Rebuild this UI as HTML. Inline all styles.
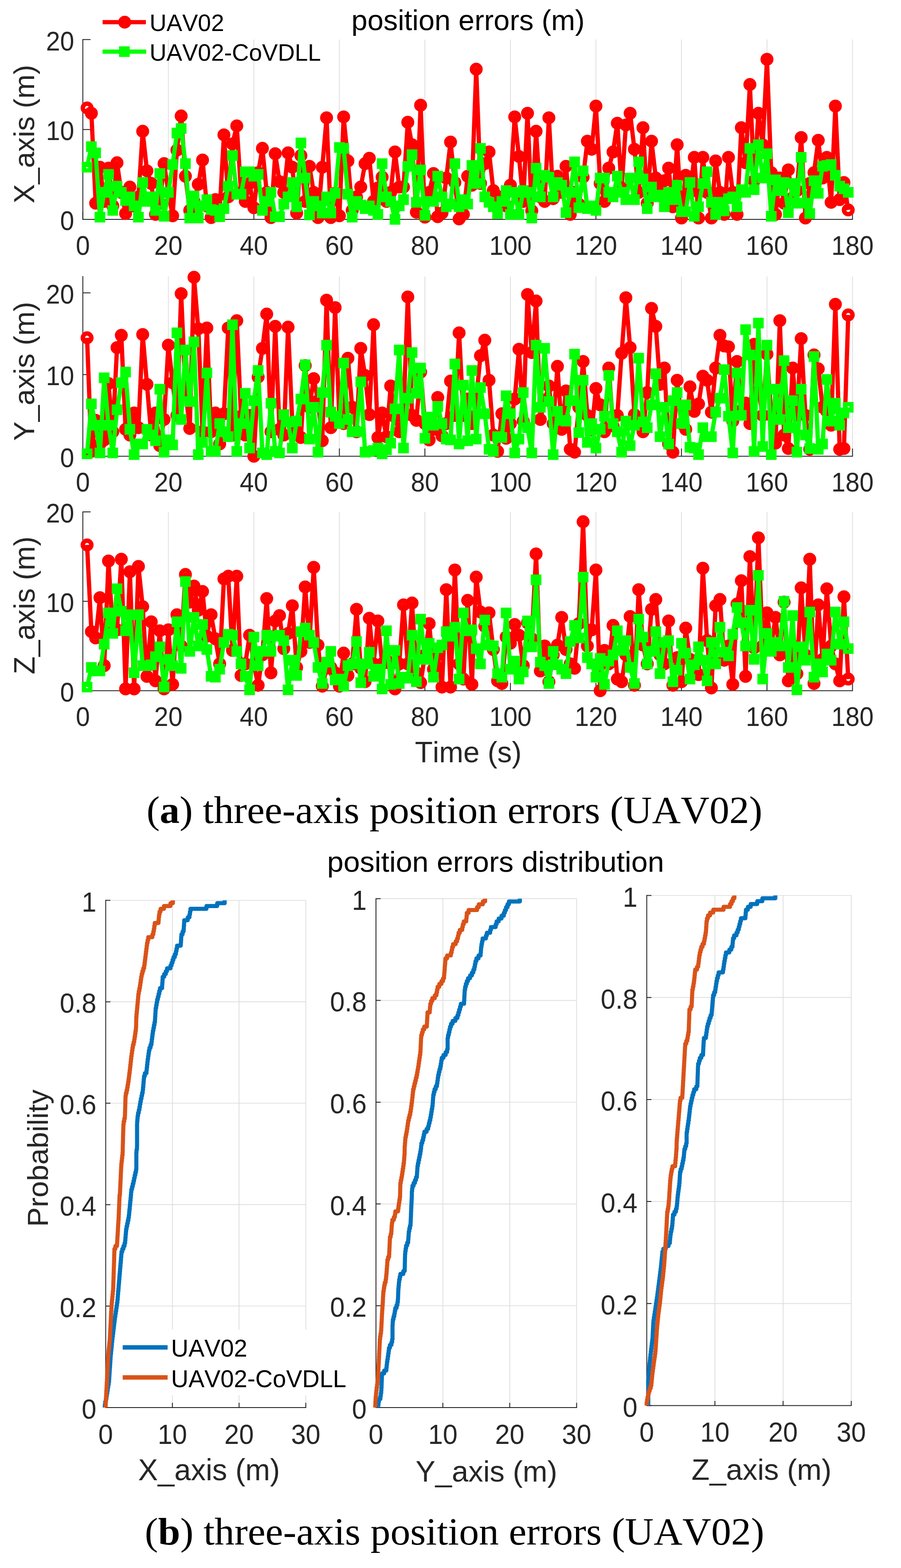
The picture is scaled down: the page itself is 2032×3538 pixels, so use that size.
<!DOCTYPE html>
<html><head><meta charset="utf-8"><title>position errors</title>
<style>html,body{margin:0;padding:0;background:#fff}svg{display:block}text{font-kerning:none}</style></head>
<body><svg width="2032" height="3538" viewBox="0 0 2032 3538">
<rect width="2032" height="3538" fill="#fff"/>
<path d="M379.67 89.30V495.00M572.53 89.30V495.00M765.40 89.30V495.00M958.26 89.30V495.00M1151.13 89.30V495.00M1344.00 89.30V495.00M1536.86 89.30V495.00M1729.73 89.30V495.00M1922.59 89.30V495.00" stroke="#262626" stroke-opacity="0.16" stroke-width="1.7" fill="none"/>
<path d="M186.8 89.30V495.00H1922.59" stroke="#262626" stroke-width="2" fill="none" stroke-linecap="square"/>
<path d="M186.8 495.00h17.4M186.8 292.15h17.4M186.8 89.30h17.4M186.80 495.00v-17.4M379.67 495.00v-17.4M572.53 495.00v-17.4M765.40 495.00v-17.4M958.26 495.00v-17.4M1151.13 495.00v-17.4M1344.00 495.00v-17.4M1536.86 495.00v-17.4M1729.73 495.00v-17.4M1922.59 495.00v-17.4" stroke="#262626" stroke-width="2" fill="none"/>
<path d="M196.4 243.5 L206.1 255.6 L215.7 458.5 L225.4 377.3 L235.0 454.4 L244.7 379.4 L254.3 464.6 L263.9 367.2 L273.6 434.1 L283.2 481.8 L292.9 422.0 L302.5 464.6 L312.2 444.3 L321.8 296.2 L331.4 385.5 L341.1 413.9 L350.7 483.8 L360.4 458.5 L370.0 369.2 L379.7 434.1 L389.3 486.9 L399.0 338.8 L408.6 261.7 L418.2 397.6 L427.9 474.7 L437.5 454.4 L447.2 415.9 L456.8 361.1 L466.5 464.6 L476.1 490.9 L485.7 450.4 L495.4 474.7 L505.0 304.3 L514.7 444.3 L524.3 324.6 L534.0 284.0 L543.6 434.1 L553.2 454.4 L562.9 413.9 L572.5 468.6 L582.2 389.5 L591.8 334.7 L601.5 434.1 L611.1 490.9 L620.7 346.9 L630.4 409.8 L640.0 434.1 L649.7 344.9 L659.3 377.3 L669.0 480.8 L678.6 351.0 L688.3 454.4 L697.9 375.3 L707.5 434.1 L717.2 490.9 L726.8 377.3 L736.5 265.8 L746.1 490.9 L755.8 436.2 L765.4 486.9 L775.0 263.8 L784.7 363.1 L794.3 474.7 L804.0 444.3 L813.6 422.0 L823.3 369.2 L832.9 357.1 L842.5 454.4 L852.2 424.0 L861.8 399.7 L871.5 454.4 L881.1 434.1 L890.8 342.9 L900.4 422.0 L910.0 422.0 L919.7 275.9 L929.3 326.6 L939.0 478.8 L948.6 237.4 L958.3 489.9 L967.9 434.1 L977.6 391.5 L987.2 488.9 L996.8 480.8 L1006.5 401.7 L1016.1 320.5 L1025.8 411.8 L1035.4 494.0 L1045.1 483.8 L1054.7 397.6 L1064.3 417.9 L1074.0 156.2 L1083.6 413.9 L1093.3 369.2 L1102.9 342.9 L1112.6 430.1 L1122.2 464.6 L1131.8 444.3 L1141.5 464.6 L1151.1 417.9 L1160.8 263.8 L1170.4 353.0 L1180.1 454.4 L1189.7 255.6 L1199.3 475.7 L1209.0 296.2 L1218.6 444.3 L1228.3 454.4 L1237.9 265.8 L1247.6 448.3 L1257.2 397.6 L1266.8 434.1 L1276.5 375.3 L1286.1 483.8 L1295.8 434.1 L1305.4 460.5 L1315.1 399.7 L1324.7 318.5 L1334.4 336.8 L1344.0 239.4 L1353.6 413.9 L1363.3 454.4 L1372.9 379.4 L1382.6 342.9 L1392.2 278.0 L1401.9 424.0 L1411.5 282.0 L1421.1 255.6 L1430.8 336.8 L1440.4 434.1 L1450.1 288.1 L1459.7 458.5 L1469.4 318.5 L1479.0 401.7 L1488.6 434.1 L1498.3 407.8 L1507.9 379.4 L1517.6 466.6 L1527.2 326.6 L1536.9 492.0 L1546.5 395.6 L1556.1 434.1 L1565.8 355.0 L1575.4 492.0 L1585.1 355.0 L1594.7 434.1 L1604.4 492.0 L1614.0 363.1 L1623.7 434.1 L1633.3 483.8 L1642.9 355.0 L1652.6 434.1 L1662.2 483.8 L1671.9 288.1 L1681.5 367.2 L1691.2 190.7 L1700.8 407.8 L1710.4 255.6 L1720.1 326.6 L1729.7 133.9 L1739.4 389.5 L1749.0 483.8 L1758.7 401.7 L1768.3 458.5 L1777.9 383.4 L1787.6 446.3 L1797.2 430.1 L1806.9 310.4 L1816.5 492.0 L1826.2 413.9 L1835.8 389.5 L1845.4 316.5 L1855.1 401.7 L1864.7 355.0 L1874.4 456.5 L1884.0 239.4 L1893.7 450.4 L1903.3 411.8 L1913.0 473.7" stroke="#ff0000" stroke-width="9.6" fill="none" stroke-linejoin="round"/>
<g fill="none" stroke="#ff0000" stroke-width="10"><circle cx="196.4" cy="243.5" r="9.6"/><circle cx="206.1" cy="255.6" r="9.6"/><circle cx="215.7" cy="458.5" r="9.6"/><circle cx="225.4" cy="377.3" r="9.6"/><circle cx="235.0" cy="454.4" r="9.6"/><circle cx="244.7" cy="379.4" r="9.6"/><circle cx="254.3" cy="464.6" r="9.6"/><circle cx="263.9" cy="367.2" r="9.6"/><circle cx="273.6" cy="434.1" r="9.6"/><circle cx="283.2" cy="481.8" r="9.6"/><circle cx="292.9" cy="422.0" r="9.6"/><circle cx="302.5" cy="464.6" r="9.6"/><circle cx="312.2" cy="444.3" r="9.6"/><circle cx="321.8" cy="296.2" r="9.6"/><circle cx="331.4" cy="385.5" r="9.6"/><circle cx="341.1" cy="413.9" r="9.6"/><circle cx="350.7" cy="483.8" r="9.6"/><circle cx="360.4" cy="458.5" r="9.6"/><circle cx="370.0" cy="369.2" r="9.6"/><circle cx="379.7" cy="434.1" r="9.6"/><circle cx="389.3" cy="486.9" r="9.6"/><circle cx="399.0" cy="338.8" r="9.6"/><circle cx="408.6" cy="261.7" r="9.6"/><circle cx="418.2" cy="397.6" r="9.6"/><circle cx="427.9" cy="474.7" r="9.6"/><circle cx="437.5" cy="454.4" r="9.6"/><circle cx="447.2" cy="415.9" r="9.6"/><circle cx="456.8" cy="361.1" r="9.6"/><circle cx="466.5" cy="464.6" r="9.6"/><circle cx="476.1" cy="490.9" r="9.6"/><circle cx="485.7" cy="450.4" r="9.6"/><circle cx="495.4" cy="474.7" r="9.6"/><circle cx="505.0" cy="304.3" r="9.6"/><circle cx="514.7" cy="444.3" r="9.6"/><circle cx="524.3" cy="324.6" r="9.6"/><circle cx="534.0" cy="284.0" r="9.6"/><circle cx="543.6" cy="434.1" r="9.6"/><circle cx="553.2" cy="454.4" r="9.6"/><circle cx="562.9" cy="413.9" r="9.6"/><circle cx="572.5" cy="468.6" r="9.6"/><circle cx="582.2" cy="389.5" r="9.6"/><circle cx="591.8" cy="334.7" r="9.6"/><circle cx="601.5" cy="434.1" r="9.6"/><circle cx="611.1" cy="490.9" r="9.6"/><circle cx="620.7" cy="346.9" r="9.6"/><circle cx="630.4" cy="409.8" r="9.6"/><circle cx="640.0" cy="434.1" r="9.6"/><circle cx="649.7" cy="344.9" r="9.6"/><circle cx="659.3" cy="377.3" r="9.6"/><circle cx="669.0" cy="480.8" r="9.6"/><circle cx="678.6" cy="351.0" r="9.6"/><circle cx="688.3" cy="454.4" r="9.6"/><circle cx="697.9" cy="375.3" r="9.6"/><circle cx="707.5" cy="434.1" r="9.6"/><circle cx="717.2" cy="490.9" r="9.6"/><circle cx="726.8" cy="377.3" r="9.6"/><circle cx="736.5" cy="265.8" r="9.6"/><circle cx="746.1" cy="490.9" r="9.6"/><circle cx="755.8" cy="436.2" r="9.6"/><circle cx="765.4" cy="486.9" r="9.6"/><circle cx="775.0" cy="263.8" r="9.6"/><circle cx="784.7" cy="363.1" r="9.6"/><circle cx="794.3" cy="474.7" r="9.6"/><circle cx="804.0" cy="444.3" r="9.6"/><circle cx="813.6" cy="422.0" r="9.6"/><circle cx="823.3" cy="369.2" r="9.6"/><circle cx="832.9" cy="357.1" r="9.6"/><circle cx="842.5" cy="454.4" r="9.6"/><circle cx="852.2" cy="424.0" r="9.6"/><circle cx="861.8" cy="399.7" r="9.6"/><circle cx="871.5" cy="454.4" r="9.6"/><circle cx="881.1" cy="434.1" r="9.6"/><circle cx="890.8" cy="342.9" r="9.6"/><circle cx="900.4" cy="422.0" r="9.6"/><circle cx="910.0" cy="422.0" r="9.6"/><circle cx="919.7" cy="275.9" r="9.6"/><circle cx="929.3" cy="326.6" r="9.6"/><circle cx="939.0" cy="478.8" r="9.6"/><circle cx="948.6" cy="237.4" r="9.6"/><circle cx="958.3" cy="489.9" r="9.6"/><circle cx="967.9" cy="434.1" r="9.6"/><circle cx="977.6" cy="391.5" r="9.6"/><circle cx="987.2" cy="488.9" r="9.6"/><circle cx="996.8" cy="480.8" r="9.6"/><circle cx="1006.5" cy="401.7" r="9.6"/><circle cx="1016.1" cy="320.5" r="9.6"/><circle cx="1025.8" cy="411.8" r="9.6"/><circle cx="1035.4" cy="494.0" r="9.6"/><circle cx="1045.1" cy="483.8" r="9.6"/><circle cx="1054.7" cy="397.6" r="9.6"/><circle cx="1064.3" cy="417.9" r="9.6"/><circle cx="1074.0" cy="156.2" r="9.6"/><circle cx="1083.6" cy="413.9" r="9.6"/><circle cx="1093.3" cy="369.2" r="9.6"/><circle cx="1102.9" cy="342.9" r="9.6"/><circle cx="1112.6" cy="430.1" r="9.6"/><circle cx="1122.2" cy="464.6" r="9.6"/><circle cx="1131.8" cy="444.3" r="9.6"/><circle cx="1141.5" cy="464.6" r="9.6"/><circle cx="1151.1" cy="417.9" r="9.6"/><circle cx="1160.8" cy="263.8" r="9.6"/><circle cx="1170.4" cy="353.0" r="9.6"/><circle cx="1180.1" cy="454.4" r="9.6"/><circle cx="1189.7" cy="255.6" r="9.6"/><circle cx="1199.3" cy="475.7" r="9.6"/><circle cx="1209.0" cy="296.2" r="9.6"/><circle cx="1218.6" cy="444.3" r="9.6"/><circle cx="1228.3" cy="454.4" r="9.6"/><circle cx="1237.9" cy="265.8" r="9.6"/><circle cx="1247.6" cy="448.3" r="9.6"/><circle cx="1257.2" cy="397.6" r="9.6"/><circle cx="1266.8" cy="434.1" r="9.6"/><circle cx="1276.5" cy="375.3" r="9.6"/><circle cx="1286.1" cy="483.8" r="9.6"/><circle cx="1295.8" cy="434.1" r="9.6"/><circle cx="1305.4" cy="460.5" r="9.6"/><circle cx="1315.1" cy="399.7" r="9.6"/><circle cx="1324.7" cy="318.5" r="9.6"/><circle cx="1334.4" cy="336.8" r="9.6"/><circle cx="1344.0" cy="239.4" r="9.6"/><circle cx="1353.6" cy="413.9" r="9.6"/><circle cx="1363.3" cy="454.4" r="9.6"/><circle cx="1372.9" cy="379.4" r="9.6"/><circle cx="1382.6" cy="342.9" r="9.6"/><circle cx="1392.2" cy="278.0" r="9.6"/><circle cx="1401.9" cy="424.0" r="9.6"/><circle cx="1411.5" cy="282.0" r="9.6"/><circle cx="1421.1" cy="255.6" r="9.6"/><circle cx="1430.8" cy="336.8" r="9.6"/><circle cx="1440.4" cy="434.1" r="9.6"/><circle cx="1450.1" cy="288.1" r="9.6"/><circle cx="1459.7" cy="458.5" r="9.6"/><circle cx="1469.4" cy="318.5" r="9.6"/><circle cx="1479.0" cy="401.7" r="9.6"/><circle cx="1488.6" cy="434.1" r="9.6"/><circle cx="1498.3" cy="407.8" r="9.6"/><circle cx="1507.9" cy="379.4" r="9.6"/><circle cx="1517.6" cy="466.6" r="9.6"/><circle cx="1527.2" cy="326.6" r="9.6"/><circle cx="1536.9" cy="492.0" r="9.6"/><circle cx="1546.5" cy="395.6" r="9.6"/><circle cx="1556.1" cy="434.1" r="9.6"/><circle cx="1565.8" cy="355.0" r="9.6"/><circle cx="1575.4" cy="492.0" r="9.6"/><circle cx="1585.1" cy="355.0" r="9.6"/><circle cx="1594.7" cy="434.1" r="9.6"/><circle cx="1604.4" cy="492.0" r="9.6"/><circle cx="1614.0" cy="363.1" r="9.6"/><circle cx="1623.7" cy="434.1" r="9.6"/><circle cx="1633.3" cy="483.8" r="9.6"/><circle cx="1642.9" cy="355.0" r="9.6"/><circle cx="1652.6" cy="434.1" r="9.6"/><circle cx="1662.2" cy="483.8" r="9.6"/><circle cx="1671.9" cy="288.1" r="9.6"/><circle cx="1681.5" cy="367.2" r="9.6"/><circle cx="1691.2" cy="190.7" r="9.6"/><circle cx="1700.8" cy="407.8" r="9.6"/><circle cx="1710.4" cy="255.6" r="9.6"/><circle cx="1720.1" cy="326.6" r="9.6"/><circle cx="1729.7" cy="133.9" r="9.6"/><circle cx="1739.4" cy="389.5" r="9.6"/><circle cx="1749.0" cy="483.8" r="9.6"/><circle cx="1758.7" cy="401.7" r="9.6"/><circle cx="1768.3" cy="458.5" r="9.6"/><circle cx="1777.9" cy="383.4" r="9.6"/><circle cx="1787.6" cy="446.3" r="9.6"/><circle cx="1797.2" cy="430.1" r="9.6"/><circle cx="1806.9" cy="310.4" r="9.6"/><circle cx="1816.5" cy="492.0" r="9.6"/><circle cx="1826.2" cy="413.9" r="9.6"/><circle cx="1835.8" cy="389.5" r="9.6"/><circle cx="1845.4" cy="316.5" r="9.6"/><circle cx="1855.1" cy="401.7" r="9.6"/><circle cx="1864.7" cy="355.0" r="9.6"/><circle cx="1874.4" cy="456.5" r="9.6"/><circle cx="1884.0" cy="239.4" r="9.6"/><circle cx="1893.7" cy="450.4" r="9.6"/><circle cx="1903.3" cy="411.8" r="9.6"/><circle cx="1913.0" cy="473.7" r="9.6"/></g>
<path d="M196.4 377.3 L206.1 330.7 L215.7 344.9 L225.4 489.9 L235.0 434.1 L244.7 393.6 L254.3 474.7 L263.9 419.9 L273.6 434.1 L283.2 452.4 L292.9 444.3 L302.5 464.6 L312.2 489.9 L321.8 411.8 L331.4 454.4 L341.1 444.3 L350.7 474.7 L360.4 391.5 L370.0 487.9 L379.7 434.1 L389.3 371.3 L399.0 300.3 L408.6 290.1 L418.2 369.2 L427.9 492.0 L437.5 442.3 L447.2 492.0 L456.8 464.6 L466.5 450.4 L476.1 472.7 L485.7 474.7 L495.4 488.9 L505.0 470.7 L514.7 419.9 L524.3 351.0 L534.0 438.2 L543.6 438.2 L553.2 387.5 L562.9 387.5 L572.5 397.6 L582.2 393.6 L591.8 474.7 L601.5 454.4 L611.1 434.1 L620.7 488.9 L630.4 488.9 L640.0 460.5 L649.7 444.3 L659.3 411.8 L669.0 466.6 L678.6 322.6 L688.3 401.7 L697.9 484.9 L707.5 454.4 L717.2 464.6 L726.8 480.8 L736.5 444.3 L746.1 480.8 L755.8 436.2 L765.4 332.7 L775.0 334.7 L784.7 438.2 L794.3 489.9 L804.0 454.4 L813.6 462.5 L823.3 470.7 L832.9 464.6 L842.5 474.7 L852.2 483.8 L861.8 369.2 L871.5 444.3 L881.1 454.4 L890.8 495.0 L900.4 464.6 L910.0 450.4 L919.7 375.3 L929.3 348.9 L939.0 456.5 L948.6 383.4 L958.3 485.9 L967.9 454.4 L977.6 454.4 L987.2 397.6 L996.8 444.3 L1006.5 466.6 L1016.1 460.5 L1025.8 369.2 L1035.4 466.6 L1045.1 450.4 L1054.7 460.5 L1064.3 373.3 L1074.0 413.9 L1083.6 334.7 L1093.3 444.3 L1102.9 456.5 L1112.6 466.6 L1122.2 481.8 L1131.8 454.4 L1141.5 430.1 L1151.1 483.8 L1160.8 434.1 L1170.4 483.8 L1180.1 430.1 L1189.7 434.1 L1199.3 492.0 L1209.0 379.4 L1218.6 444.3 L1228.3 395.6 L1237.9 399.7 L1247.6 444.3 L1257.2 411.8 L1266.8 417.9 L1276.5 479.8 L1286.1 434.1 L1295.8 365.2 L1305.4 468.6 L1315.1 385.5 L1324.7 470.7 L1334.4 464.6 L1344.0 474.7 L1353.6 401.7 L1363.3 401.7 L1372.9 434.1 L1382.6 444.3 L1392.2 397.6 L1401.9 434.1 L1411.5 450.4 L1421.1 401.7 L1430.8 450.4 L1440.4 365.2 L1450.1 403.7 L1459.7 470.7 L1469.4 422.0 L1479.0 444.3 L1488.6 440.2 L1498.3 466.6 L1507.9 434.1 L1517.6 450.4 L1527.2 417.9 L1536.9 477.8 L1546.5 477.8 L1556.1 411.8 L1565.8 487.9 L1575.4 466.6 L1585.1 413.9 L1594.7 387.5 L1604.4 456.5 L1614.0 483.8 L1623.7 456.5 L1633.3 475.7 L1642.9 448.3 L1652.6 444.3 L1662.2 466.6 L1671.9 428.1 L1681.5 434.1 L1691.2 334.7 L1700.8 428.1 L1710.4 326.6 L1720.1 401.7 L1729.7 346.9 L1739.4 487.9 L1749.0 405.7 L1758.7 430.1 L1768.3 411.8 L1777.9 479.8 L1787.6 413.9 L1797.2 458.5 L1806.9 355.0 L1816.5 458.5 L1826.2 481.8 L1835.8 407.8 L1845.4 436.2 L1855.1 375.3 L1864.7 373.3 L1874.4 371.3 L1884.0 395.6 L1893.7 419.9 L1903.3 426.0 L1913.0 434.1" stroke="#00ff00" stroke-width="9.6" fill="none" stroke-linejoin="round"/>
<path d="M189.2 370.1h14.4v14.4h-14.4ZM198.9 323.5h14.4v14.4h-14.4ZM208.5 337.7h14.4v14.4h-14.4ZM218.2 482.7h14.4v14.4h-14.4ZM227.8 426.9h14.4v14.4h-14.4ZM237.5 386.4h14.4v14.4h-14.4ZM247.1 467.5h14.4v14.4h-14.4ZM256.7 412.7h14.4v14.4h-14.4ZM266.4 426.9h14.4v14.4h-14.4ZM276.0 445.2h14.4v14.4h-14.4ZM285.7 437.1h14.4v14.4h-14.4ZM295.3 457.4h14.4v14.4h-14.4ZM305.0 482.7h14.4v14.4h-14.4ZM314.6 404.6h14.4v14.4h-14.4ZM324.2 447.2h14.4v14.4h-14.4ZM333.9 437.1h14.4v14.4h-14.4ZM343.5 467.5h14.4v14.4h-14.4ZM353.2 384.3h14.4v14.4h-14.4ZM362.8 480.7h14.4v14.4h-14.4ZM372.5 426.9h14.4v14.4h-14.4ZM382.1 364.1h14.4v14.4h-14.4ZM391.8 293.1h14.4v14.4h-14.4ZM401.4 282.9h14.4v14.4h-14.4ZM411.0 362.0h14.4v14.4h-14.4ZM420.7 484.8h14.4v14.4h-14.4ZM430.3 435.1h14.4v14.4h-14.4ZM440.0 484.8h14.4v14.4h-14.4ZM449.6 457.4h14.4v14.4h-14.4ZM459.3 443.2h14.4v14.4h-14.4ZM468.9 465.5h14.4v14.4h-14.4ZM478.5 467.5h14.4v14.4h-14.4ZM488.2 481.7h14.4v14.4h-14.4ZM497.8 463.5h14.4v14.4h-14.4ZM507.5 412.7h14.4v14.4h-14.4ZM517.1 343.8h14.4v14.4h-14.4ZM526.8 431.0h14.4v14.4h-14.4ZM536.4 431.0h14.4v14.4h-14.4ZM546.0 380.3h14.4v14.4h-14.4ZM555.7 380.3h14.4v14.4h-14.4ZM565.3 390.4h14.4v14.4h-14.4ZM575.0 386.4h14.4v14.4h-14.4ZM584.6 467.5h14.4v14.4h-14.4ZM594.3 447.2h14.4v14.4h-14.4ZM603.9 426.9h14.4v14.4h-14.4ZM613.5 481.7h14.4v14.4h-14.4ZM623.2 481.7h14.4v14.4h-14.4ZM632.8 453.3h14.4v14.4h-14.4ZM642.5 437.1h14.4v14.4h-14.4ZM652.1 404.6h14.4v14.4h-14.4ZM661.8 459.4h14.4v14.4h-14.4ZM671.4 315.4h14.4v14.4h-14.4ZM681.1 394.5h14.4v14.4h-14.4ZM690.7 477.7h14.4v14.4h-14.4ZM700.3 447.2h14.4v14.4h-14.4ZM710.0 457.4h14.4v14.4h-14.4ZM719.6 473.6h14.4v14.4h-14.4ZM729.3 437.1h14.4v14.4h-14.4ZM738.9 473.6h14.4v14.4h-14.4ZM748.6 429.0h14.4v14.4h-14.4ZM758.2 325.5h14.4v14.4h-14.4ZM767.8 327.5h14.4v14.4h-14.4ZM777.5 431.0h14.4v14.4h-14.4ZM787.1 482.7h14.4v14.4h-14.4ZM796.8 447.2h14.4v14.4h-14.4ZM806.4 455.3h14.4v14.4h-14.4ZM816.1 463.5h14.4v14.4h-14.4ZM825.7 457.4h14.4v14.4h-14.4ZM835.3 467.5h14.4v14.4h-14.4ZM845.0 476.6h14.4v14.4h-14.4ZM854.6 362.0h14.4v14.4h-14.4ZM864.3 437.1h14.4v14.4h-14.4ZM873.9 447.2h14.4v14.4h-14.4ZM883.6 487.8h14.4v14.4h-14.4ZM893.2 457.4h14.4v14.4h-14.4ZM902.8 443.2h14.4v14.4h-14.4ZM912.5 368.1h14.4v14.4h-14.4ZM922.1 341.7h14.4v14.4h-14.4ZM931.8 449.3h14.4v14.4h-14.4ZM941.4 376.2h14.4v14.4h-14.4ZM951.1 478.7h14.4v14.4h-14.4ZM960.7 447.2h14.4v14.4h-14.4ZM970.4 447.2h14.4v14.4h-14.4ZM980.0 390.4h14.4v14.4h-14.4ZM989.6 437.1h14.4v14.4h-14.4ZM999.3 459.4h14.4v14.4h-14.4ZM1008.9 453.3h14.4v14.4h-14.4ZM1018.6 362.0h14.4v14.4h-14.4ZM1028.2 459.4h14.4v14.4h-14.4ZM1037.9 443.2h14.4v14.4h-14.4ZM1047.5 453.3h14.4v14.4h-14.4ZM1057.1 366.1h14.4v14.4h-14.4ZM1066.8 406.7h14.4v14.4h-14.4ZM1076.4 327.5h14.4v14.4h-14.4ZM1086.1 437.1h14.4v14.4h-14.4ZM1095.7 449.3h14.4v14.4h-14.4ZM1105.4 459.4h14.4v14.4h-14.4ZM1115.0 474.6h14.4v14.4h-14.4ZM1124.6 447.2h14.4v14.4h-14.4ZM1134.3 422.9h14.4v14.4h-14.4ZM1143.9 476.6h14.4v14.4h-14.4ZM1153.6 426.9h14.4v14.4h-14.4ZM1163.2 476.6h14.4v14.4h-14.4ZM1172.9 422.9h14.4v14.4h-14.4ZM1182.5 426.9h14.4v14.4h-14.4ZM1192.1 484.8h14.4v14.4h-14.4ZM1201.8 372.2h14.4v14.4h-14.4ZM1211.4 437.1h14.4v14.4h-14.4ZM1221.1 388.4h14.4v14.4h-14.4ZM1230.7 392.5h14.4v14.4h-14.4ZM1240.4 437.1h14.4v14.4h-14.4ZM1250.0 404.6h14.4v14.4h-14.4ZM1259.6 410.7h14.4v14.4h-14.4ZM1269.3 472.6h14.4v14.4h-14.4ZM1278.9 426.9h14.4v14.4h-14.4ZM1288.6 358.0h14.4v14.4h-14.4ZM1298.2 461.4h14.4v14.4h-14.4ZM1307.9 378.3h14.4v14.4h-14.4ZM1317.5 463.5h14.4v14.4h-14.4ZM1327.2 457.4h14.4v14.4h-14.4ZM1336.8 467.5h14.4v14.4h-14.4ZM1346.4 394.5h14.4v14.4h-14.4ZM1356.1 394.5h14.4v14.4h-14.4ZM1365.7 426.9h14.4v14.4h-14.4ZM1375.4 437.1h14.4v14.4h-14.4ZM1385.0 390.4h14.4v14.4h-14.4ZM1394.7 426.9h14.4v14.4h-14.4ZM1404.3 443.2h14.4v14.4h-14.4ZM1413.9 394.5h14.4v14.4h-14.4ZM1423.6 443.2h14.4v14.4h-14.4ZM1433.2 358.0h14.4v14.4h-14.4ZM1442.9 396.5h14.4v14.4h-14.4ZM1452.5 463.5h14.4v14.4h-14.4ZM1462.2 414.8h14.4v14.4h-14.4ZM1471.8 437.1h14.4v14.4h-14.4ZM1481.4 433.0h14.4v14.4h-14.4ZM1491.1 459.4h14.4v14.4h-14.4ZM1500.7 426.9h14.4v14.4h-14.4ZM1510.4 443.2h14.4v14.4h-14.4ZM1520.0 410.7h14.4v14.4h-14.4ZM1529.7 470.6h14.4v14.4h-14.4ZM1539.3 470.6h14.4v14.4h-14.4ZM1548.9 404.6h14.4v14.4h-14.4ZM1558.6 480.7h14.4v14.4h-14.4ZM1568.2 459.4h14.4v14.4h-14.4ZM1577.9 406.7h14.4v14.4h-14.4ZM1587.5 380.3h14.4v14.4h-14.4ZM1597.2 449.3h14.4v14.4h-14.4ZM1606.8 476.6h14.4v14.4h-14.4ZM1616.5 449.3h14.4v14.4h-14.4ZM1626.1 468.5h14.4v14.4h-14.4ZM1635.7 441.1h14.4v14.4h-14.4ZM1645.4 437.1h14.4v14.4h-14.4ZM1655.0 459.4h14.4v14.4h-14.4ZM1664.7 420.9h14.4v14.4h-14.4ZM1674.3 426.9h14.4v14.4h-14.4ZM1684.0 327.5h14.4v14.4h-14.4ZM1693.6 420.9h14.4v14.4h-14.4ZM1703.2 319.4h14.4v14.4h-14.4ZM1712.9 394.5h14.4v14.4h-14.4ZM1722.5 339.7h14.4v14.4h-14.4ZM1732.2 480.7h14.4v14.4h-14.4ZM1741.8 398.5h14.4v14.4h-14.4ZM1751.5 422.9h14.4v14.4h-14.4ZM1761.1 404.6h14.4v14.4h-14.4ZM1770.7 472.6h14.4v14.4h-14.4ZM1780.4 406.7h14.4v14.4h-14.4ZM1790.0 451.3h14.4v14.4h-14.4ZM1799.7 347.8h14.4v14.4h-14.4ZM1809.3 451.3h14.4v14.4h-14.4ZM1819.0 474.6h14.4v14.4h-14.4ZM1828.6 400.6h14.4v14.4h-14.4ZM1838.2 429.0h14.4v14.4h-14.4ZM1847.9 368.1h14.4v14.4h-14.4ZM1857.5 366.1h14.4v14.4h-14.4ZM1867.2 364.1h14.4v14.4h-14.4ZM1876.8 388.4h14.4v14.4h-14.4ZM1886.5 412.7h14.4v14.4h-14.4ZM1896.1 418.8h14.4v14.4h-14.4ZM1905.8 426.9h14.4v14.4h-14.4Z" fill="none" stroke="#00ff00" stroke-width="9.6" stroke-linejoin="miter"/>
<path d="M379.67 623.90V1029.50M572.53 623.90V1029.50M765.40 623.90V1029.50M958.26 623.90V1029.50M1151.13 623.90V1029.50M1344.00 623.90V1029.50M1536.86 623.90V1029.50M1729.73 623.90V1029.50M1922.59 623.90V1029.50" stroke="#262626" stroke-opacity="0.16" stroke-width="1.7" fill="none"/>
<path d="M186.8 623.90V1029.50H1922.59" stroke="#262626" stroke-width="2" fill="none" stroke-linecap="square"/>
<path d="M186.8 1029.50h17.4M186.8 845.14h17.4M186.8 660.77h17.4M186.80 1029.50v-17.4M379.67 1029.50v-17.4M572.53 1029.50v-17.4M765.40 1029.50v-17.4M958.26 1029.50v-17.4M1151.13 1029.50v-17.4M1344.00 1029.50v-17.4M1536.86 1029.50v-17.4M1729.73 1029.50v-17.4M1922.59 1029.50v-17.4" stroke="#262626" stroke-width="2" fill="none"/>
<path d="M196.4 762.2 L206.1 1018.4 L215.7 948.4 L225.4 1001.8 L235.0 992.6 L244.7 865.4 L254.3 974.2 L263.9 784.3 L273.6 756.6 L283.2 968.7 L292.9 981.6 L302.5 931.8 L312.2 965.0 L321.8 754.8 L331.4 867.3 L341.1 981.6 L350.7 931.8 L360.4 1005.5 L370.0 946.5 L379.7 778.8 L389.3 863.6 L399.0 937.3 L408.6 662.6 L418.2 882.0 L427.9 966.8 L437.5 625.7 L447.2 741.9 L456.8 974.2 L466.5 740.0 L476.1 974.2 L485.7 931.8 L495.4 1001.8 L505.0 933.6 L514.7 740.0 L524.3 981.6 L534.0 723.5 L543.6 939.2 L553.2 981.6 L562.9 937.3 L572.5 1029.5 L582.2 850.7 L591.8 786.1 L601.5 708.7 L611.1 974.2 L620.7 736.4 L630.4 968.7 L640.0 981.6 L649.7 738.2 L659.3 955.8 L669.0 974.2 L678.6 987.1 L688.3 824.9 L697.9 918.9 L707.5 854.4 L717.2 904.1 L726.8 994.5 L736.5 677.4 L746.1 965.0 L755.8 694.0 L765.4 948.4 L775.0 955.8 L784.7 808.3 L794.3 918.9 L804.0 974.2 L813.6 786.1 L823.3 847.0 L832.9 935.5 L842.5 732.7 L852.2 987.1 L861.8 931.8 L871.5 985.3 L881.1 870.9 L890.8 941.0 L900.4 974.2 L910.0 928.1 L919.7 670.0 L929.3 937.3 L939.0 948.4 L948.6 839.6 L958.3 955.8 L967.9 992.6 L977.6 968.7 L987.2 896.8 L996.8 983.4 L1006.5 955.8 L1016.1 859.9 L1025.8 937.3 L1035.4 751.1 L1045.1 937.3 L1054.7 900.4 L1064.3 955.8 L1074.0 900.4 L1083.6 802.7 L1093.3 767.7 L1102.9 858.0 L1112.6 981.6 L1122.2 1018.4 L1131.8 933.6 L1141.5 988.9 L1151.1 955.8 L1160.8 900.4 L1170.4 788.0 L1180.1 950.2 L1189.7 664.5 L1199.3 795.4 L1209.0 679.2 L1218.6 946.5 L1228.3 902.3 L1237.9 870.9 L1247.6 955.8 L1257.2 826.7 L1266.8 968.7 L1276.5 882.0 L1286.1 1013.8 L1295.8 1020.3 L1305.4 918.9 L1315.1 815.6 L1324.7 937.3 L1334.4 970.5 L1344.0 876.5 L1353.6 913.4 L1363.3 974.2 L1372.9 830.4 L1382.6 961.3 L1392.2 937.3 L1401.9 797.2 L1411.5 671.8 L1421.1 784.3 L1430.8 935.5 L1440.4 955.8 L1450.1 974.2 L1459.7 885.7 L1469.4 695.8 L1479.0 736.4 L1488.6 867.3 L1498.3 830.4 L1507.9 1001.8 L1517.6 1020.3 L1527.2 858.0 L1536.9 955.8 L1546.5 968.7 L1556.1 872.8 L1565.8 928.1 L1575.4 911.5 L1585.1 848.8 L1594.7 858.0 L1604.4 929.9 L1614.0 830.4 L1623.7 756.6 L1633.3 780.6 L1642.9 782.5 L1652.6 950.2 L1662.2 815.6 L1671.9 926.3 L1681.5 909.7 L1691.2 955.8 L1700.8 776.9 L1710.4 882.0 L1720.1 937.3 L1729.7 799.0 L1739.4 937.3 L1749.0 1000.0 L1758.7 723.5 L1768.3 981.6 L1777.9 1012.0 L1787.6 830.4 L1797.2 937.3 L1806.9 764.0 L1816.5 937.3 L1826.2 1013.8 L1835.8 800.9 L1845.4 832.2 L1855.1 918.9 L1864.7 928.1 L1874.4 959.4 L1884.0 686.6 L1893.7 1013.8 L1903.3 1012.0 L1913.0 710.6" stroke="#ff0000" stroke-width="9.6" fill="none" stroke-linejoin="round"/>
<g fill="none" stroke="#ff0000" stroke-width="10"><circle cx="196.4" cy="762.2" r="9.6"/><circle cx="206.1" cy="1018.4" r="9.6"/><circle cx="215.7" cy="948.4" r="9.6"/><circle cx="225.4" cy="1001.8" r="9.6"/><circle cx="235.0" cy="992.6" r="9.6"/><circle cx="244.7" cy="865.4" r="9.6"/><circle cx="254.3" cy="974.2" r="9.6"/><circle cx="263.9" cy="784.3" r="9.6"/><circle cx="273.6" cy="756.6" r="9.6"/><circle cx="283.2" cy="968.7" r="9.6"/><circle cx="292.9" cy="981.6" r="9.6"/><circle cx="302.5" cy="931.8" r="9.6"/><circle cx="312.2" cy="965.0" r="9.6"/><circle cx="321.8" cy="754.8" r="9.6"/><circle cx="331.4" cy="867.3" r="9.6"/><circle cx="341.1" cy="981.6" r="9.6"/><circle cx="350.7" cy="931.8" r="9.6"/><circle cx="360.4" cy="1005.5" r="9.6"/><circle cx="370.0" cy="946.5" r="9.6"/><circle cx="379.7" cy="778.8" r="9.6"/><circle cx="389.3" cy="863.6" r="9.6"/><circle cx="399.0" cy="937.3" r="9.6"/><circle cx="408.6" cy="662.6" r="9.6"/><circle cx="418.2" cy="882.0" r="9.6"/><circle cx="427.9" cy="966.8" r="9.6"/><circle cx="437.5" cy="625.7" r="9.6"/><circle cx="447.2" cy="741.9" r="9.6"/><circle cx="456.8" cy="974.2" r="9.6"/><circle cx="466.5" cy="740.0" r="9.6"/><circle cx="476.1" cy="974.2" r="9.6"/><circle cx="485.7" cy="931.8" r="9.6"/><circle cx="495.4" cy="1001.8" r="9.6"/><circle cx="505.0" cy="933.6" r="9.6"/><circle cx="514.7" cy="740.0" r="9.6"/><circle cx="524.3" cy="981.6" r="9.6"/><circle cx="534.0" cy="723.5" r="9.6"/><circle cx="543.6" cy="939.2" r="9.6"/><circle cx="553.2" cy="981.6" r="9.6"/><circle cx="562.9" cy="937.3" r="9.6"/><circle cx="572.5" cy="1029.5" r="9.6"/><circle cx="582.2" cy="850.7" r="9.6"/><circle cx="591.8" cy="786.1" r="9.6"/><circle cx="601.5" cy="708.7" r="9.6"/><circle cx="611.1" cy="974.2" r="9.6"/><circle cx="620.7" cy="736.4" r="9.6"/><circle cx="630.4" cy="968.7" r="9.6"/><circle cx="640.0" cy="981.6" r="9.6"/><circle cx="649.7" cy="738.2" r="9.6"/><circle cx="659.3" cy="955.8" r="9.6"/><circle cx="669.0" cy="974.2" r="9.6"/><circle cx="678.6" cy="987.1" r="9.6"/><circle cx="688.3" cy="824.9" r="9.6"/><circle cx="697.9" cy="918.9" r="9.6"/><circle cx="707.5" cy="854.4" r="9.6"/><circle cx="717.2" cy="904.1" r="9.6"/><circle cx="726.8" cy="994.5" r="9.6"/><circle cx="736.5" cy="677.4" r="9.6"/><circle cx="746.1" cy="965.0" r="9.6"/><circle cx="755.8" cy="694.0" r="9.6"/><circle cx="765.4" cy="948.4" r="9.6"/><circle cx="775.0" cy="955.8" r="9.6"/><circle cx="784.7" cy="808.3" r="9.6"/><circle cx="794.3" cy="918.9" r="9.6"/><circle cx="804.0" cy="974.2" r="9.6"/><circle cx="813.6" cy="786.1" r="9.6"/><circle cx="823.3" cy="847.0" r="9.6"/><circle cx="832.9" cy="935.5" r="9.6"/><circle cx="842.5" cy="732.7" r="9.6"/><circle cx="852.2" cy="987.1" r="9.6"/><circle cx="861.8" cy="931.8" r="9.6"/><circle cx="871.5" cy="985.3" r="9.6"/><circle cx="881.1" cy="870.9" r="9.6"/><circle cx="890.8" cy="941.0" r="9.6"/><circle cx="900.4" cy="974.2" r="9.6"/><circle cx="910.0" cy="928.1" r="9.6"/><circle cx="919.7" cy="670.0" r="9.6"/><circle cx="929.3" cy="937.3" r="9.6"/><circle cx="939.0" cy="948.4" r="9.6"/><circle cx="948.6" cy="839.6" r="9.6"/><circle cx="958.3" cy="955.8" r="9.6"/><circle cx="967.9" cy="992.6" r="9.6"/><circle cx="977.6" cy="968.7" r="9.6"/><circle cx="987.2" cy="896.8" r="9.6"/><circle cx="996.8" cy="983.4" r="9.6"/><circle cx="1006.5" cy="955.8" r="9.6"/><circle cx="1016.1" cy="859.9" r="9.6"/><circle cx="1025.8" cy="937.3" r="9.6"/><circle cx="1035.4" cy="751.1" r="9.6"/><circle cx="1045.1" cy="937.3" r="9.6"/><circle cx="1054.7" cy="900.4" r="9.6"/><circle cx="1064.3" cy="955.8" r="9.6"/><circle cx="1074.0" cy="900.4" r="9.6"/><circle cx="1083.6" cy="802.7" r="9.6"/><circle cx="1093.3" cy="767.7" r="9.6"/><circle cx="1102.9" cy="858.0" r="9.6"/><circle cx="1112.6" cy="981.6" r="9.6"/><circle cx="1122.2" cy="1018.4" r="9.6"/><circle cx="1131.8" cy="933.6" r="9.6"/><circle cx="1141.5" cy="988.9" r="9.6"/><circle cx="1151.1" cy="955.8" r="9.6"/><circle cx="1160.8" cy="900.4" r="9.6"/><circle cx="1170.4" cy="788.0" r="9.6"/><circle cx="1180.1" cy="950.2" r="9.6"/><circle cx="1189.7" cy="664.5" r="9.6"/><circle cx="1199.3" cy="795.4" r="9.6"/><circle cx="1209.0" cy="679.2" r="9.6"/><circle cx="1218.6" cy="946.5" r="9.6"/><circle cx="1228.3" cy="902.3" r="9.6"/><circle cx="1237.9" cy="870.9" r="9.6"/><circle cx="1247.6" cy="955.8" r="9.6"/><circle cx="1257.2" cy="826.7" r="9.6"/><circle cx="1266.8" cy="968.7" r="9.6"/><circle cx="1276.5" cy="882.0" r="9.6"/><circle cx="1286.1" cy="1013.8" r="9.6"/><circle cx="1295.8" cy="1020.3" r="9.6"/><circle cx="1305.4" cy="918.9" r="9.6"/><circle cx="1315.1" cy="815.6" r="9.6"/><circle cx="1324.7" cy="937.3" r="9.6"/><circle cx="1334.4" cy="970.5" r="9.6"/><circle cx="1344.0" cy="876.5" r="9.6"/><circle cx="1353.6" cy="913.4" r="9.6"/><circle cx="1363.3" cy="974.2" r="9.6"/><circle cx="1372.9" cy="830.4" r="9.6"/><circle cx="1382.6" cy="961.3" r="9.6"/><circle cx="1392.2" cy="937.3" r="9.6"/><circle cx="1401.9" cy="797.2" r="9.6"/><circle cx="1411.5" cy="671.8" r="9.6"/><circle cx="1421.1" cy="784.3" r="9.6"/><circle cx="1430.8" cy="935.5" r="9.6"/><circle cx="1440.4" cy="955.8" r="9.6"/><circle cx="1450.1" cy="974.2" r="9.6"/><circle cx="1459.7" cy="885.7" r="9.6"/><circle cx="1469.4" cy="695.8" r="9.6"/><circle cx="1479.0" cy="736.4" r="9.6"/><circle cx="1488.6" cy="867.3" r="9.6"/><circle cx="1498.3" cy="830.4" r="9.6"/><circle cx="1507.9" cy="1001.8" r="9.6"/><circle cx="1517.6" cy="1020.3" r="9.6"/><circle cx="1527.2" cy="858.0" r="9.6"/><circle cx="1536.9" cy="955.8" r="9.6"/><circle cx="1546.5" cy="968.7" r="9.6"/><circle cx="1556.1" cy="872.8" r="9.6"/><circle cx="1565.8" cy="928.1" r="9.6"/><circle cx="1575.4" cy="911.5" r="9.6"/><circle cx="1585.1" cy="848.8" r="9.6"/><circle cx="1594.7" cy="858.0" r="9.6"/><circle cx="1604.4" cy="929.9" r="9.6"/><circle cx="1614.0" cy="830.4" r="9.6"/><circle cx="1623.7" cy="756.6" r="9.6"/><circle cx="1633.3" cy="780.6" r="9.6"/><circle cx="1642.9" cy="782.5" r="9.6"/><circle cx="1652.6" cy="950.2" r="9.6"/><circle cx="1662.2" cy="815.6" r="9.6"/><circle cx="1671.9" cy="926.3" r="9.6"/><circle cx="1681.5" cy="909.7" r="9.6"/><circle cx="1691.2" cy="955.8" r="9.6"/><circle cx="1700.8" cy="776.9" r="9.6"/><circle cx="1710.4" cy="882.0" r="9.6"/><circle cx="1720.1" cy="937.3" r="9.6"/><circle cx="1729.7" cy="799.0" r="9.6"/><circle cx="1739.4" cy="937.3" r="9.6"/><circle cx="1749.0" cy="1000.0" r="9.6"/><circle cx="1758.7" cy="723.5" r="9.6"/><circle cx="1768.3" cy="981.6" r="9.6"/><circle cx="1777.9" cy="1012.0" r="9.6"/><circle cx="1787.6" cy="830.4" r="9.6"/><circle cx="1797.2" cy="937.3" r="9.6"/><circle cx="1806.9" cy="764.0" r="9.6"/><circle cx="1816.5" cy="937.3" r="9.6"/><circle cx="1826.2" cy="1013.8" r="9.6"/><circle cx="1835.8" cy="800.9" r="9.6"/><circle cx="1845.4" cy="832.2" r="9.6"/><circle cx="1855.1" cy="918.9" r="9.6"/><circle cx="1864.7" cy="928.1" r="9.6"/><circle cx="1874.4" cy="959.4" r="9.6"/><circle cx="1884.0" cy="686.6" r="9.6"/><circle cx="1893.7" cy="1013.8" r="9.6"/><circle cx="1903.3" cy="1012.0" r="9.6"/><circle cx="1913.0" cy="710.6" r="9.6"/></g>
<path d="M196.4 1024.0 L206.1 911.5 L215.7 959.4 L225.4 1022.1 L235.0 852.5 L244.7 959.4 L254.3 1022.1 L263.9 924.4 L273.6 863.6 L283.2 839.6 L292.9 968.7 L302.5 1025.8 L312.2 1001.8 L321.8 1001.8 L331.4 968.7 L341.1 981.6 L350.7 994.5 L360.4 878.3 L370.0 1020.3 L379.7 992.6 L389.3 1003.7 L399.0 751.1 L408.6 946.5 L418.2 789.8 L427.9 906.0 L437.5 771.4 L447.2 1025.8 L456.8 998.2 L466.5 841.4 L476.1 1018.4 L485.7 1018.4 L495.4 955.8 L505.0 974.2 L514.7 985.3 L524.3 732.7 L534.0 1018.4 L543.6 955.8 L553.2 887.5 L562.9 1011.1 L572.5 904.1 L582.2 835.9 L591.8 1022.1 L601.5 1025.8 L611.1 909.7 L620.7 1018.4 L630.4 1022.1 L640.0 935.5 L649.7 952.1 L659.3 1011.1 L669.0 950.2 L678.6 900.4 L688.3 823.0 L697.9 990.8 L707.5 918.9 L717.2 1020.3 L726.8 885.7 L736.5 778.8 L746.1 929.9 L755.8 939.2 L765.4 955.8 L775.0 819.3 L784.7 946.5 L794.3 974.2 L804.0 974.2 L813.6 861.7 L823.3 1020.3 L832.9 1018.4 L842.5 1016.6 L852.2 1011.1 L861.8 1024.0 L871.5 1014.8 L881.1 1000.0 L890.8 922.6 L900.4 789.8 L910.0 1011.1 L919.7 898.6 L929.3 795.4 L939.0 887.5 L948.6 830.4 L958.3 988.9 L967.9 941.0 L977.6 959.4 L987.2 917.0 L996.8 955.8 L1006.5 990.8 L1016.1 992.6 L1025.8 821.2 L1035.4 1001.8 L1045.1 869.1 L1054.7 994.5 L1064.3 835.9 L1074.0 990.8 L1083.6 874.6 L1093.3 933.6 L1102.9 1013.8 L1112.6 1018.4 L1122.2 985.3 L1131.8 987.1 L1141.5 893.1 L1151.1 933.6 L1160.8 1022.1 L1170.4 990.8 L1180.1 885.7 L1189.7 965.0 L1199.3 1022.1 L1209.0 778.8 L1218.6 918.9 L1228.3 786.1 L1237.9 906.0 L1247.6 1025.8 L1257.2 928.1 L1266.8 948.4 L1276.5 950.2 L1286.1 904.1 L1295.8 799.0 L1305.4 976.0 L1315.1 858.0 L1324.7 998.2 L1334.4 955.8 L1344.0 1011.1 L1353.6 968.7 L1363.3 939.2 L1372.9 847.0 L1382.6 955.8 L1392.2 974.2 L1401.9 1020.3 L1411.5 950.2 L1421.1 1005.5 L1430.8 959.4 L1440.4 808.3 L1450.1 952.1 L1459.7 965.0 L1469.4 913.4 L1479.0 843.3 L1488.6 985.3 L1498.3 918.9 L1507.9 1001.8 L1517.6 904.1 L1527.2 885.7 L1536.9 955.8 L1546.5 913.4 L1556.1 1009.2 L1565.8 1011.1 L1575.4 1025.8 L1585.1 965.0 L1594.7 985.3 L1604.4 985.3 L1614.0 929.9 L1623.7 898.6 L1633.3 834.1 L1642.9 939.2 L1652.6 1022.1 L1662.2 841.4 L1671.9 937.3 L1681.5 743.7 L1691.2 800.9 L1700.8 1018.4 L1710.4 729.0 L1720.1 1007.4 L1729.7 778.8 L1739.4 1025.8 L1749.0 878.3 L1758.7 946.5 L1768.3 813.8 L1777.9 965.0 L1787.6 904.1 L1797.2 1020.3 L1806.9 878.3 L1816.5 981.6 L1826.2 1012.0 L1835.8 804.6 L1845.4 1013.8 L1855.1 1001.8 L1864.7 856.2 L1874.4 950.2 L1884.0 909.7 L1893.7 959.4 L1903.3 931.8 L1913.0 918.9" stroke="#00ff00" stroke-width="9.6" fill="none" stroke-linejoin="round"/>
<path d="M189.2 1016.8h14.4v14.4h-14.4ZM198.9 904.3h14.4v14.4h-14.4ZM208.5 952.2h14.4v14.4h-14.4ZM218.2 1014.9h14.4v14.4h-14.4ZM227.8 845.3h14.4v14.4h-14.4ZM237.5 952.2h14.4v14.4h-14.4ZM247.1 1014.9h14.4v14.4h-14.4ZM256.7 917.2h14.4v14.4h-14.4ZM266.4 856.4h14.4v14.4h-14.4ZM276.0 832.4h14.4v14.4h-14.4ZM285.7 961.5h14.4v14.4h-14.4ZM295.3 1018.6h14.4v14.4h-14.4ZM305.0 994.6h14.4v14.4h-14.4ZM314.6 994.6h14.4v14.4h-14.4ZM324.2 961.5h14.4v14.4h-14.4ZM333.9 974.4h14.4v14.4h-14.4ZM343.5 987.3h14.4v14.4h-14.4ZM353.2 871.1h14.4v14.4h-14.4ZM362.8 1013.1h14.4v14.4h-14.4ZM372.5 985.4h14.4v14.4h-14.4ZM382.1 996.5h14.4v14.4h-14.4ZM391.8 743.9h14.4v14.4h-14.4ZM401.4 939.3h14.4v14.4h-14.4ZM411.0 782.6h14.4v14.4h-14.4ZM420.7 898.8h14.4v14.4h-14.4ZM430.3 764.2h14.4v14.4h-14.4ZM440.0 1018.6h14.4v14.4h-14.4ZM449.6 991.0h14.4v14.4h-14.4ZM459.3 834.2h14.4v14.4h-14.4ZM468.9 1011.2h14.4v14.4h-14.4ZM478.5 1011.2h14.4v14.4h-14.4ZM488.2 948.6h14.4v14.4h-14.4ZM497.8 967.0h14.4v14.4h-14.4ZM507.5 978.1h14.4v14.4h-14.4ZM517.1 725.5h14.4v14.4h-14.4ZM526.8 1011.2h14.4v14.4h-14.4ZM536.4 948.6h14.4v14.4h-14.4ZM546.0 880.3h14.4v14.4h-14.4ZM555.7 1003.9h14.4v14.4h-14.4ZM565.3 896.9h14.4v14.4h-14.4ZM575.0 828.7h14.4v14.4h-14.4ZM584.6 1014.9h14.4v14.4h-14.4ZM594.3 1018.6h14.4v14.4h-14.4ZM603.9 902.5h14.4v14.4h-14.4ZM613.5 1011.2h14.4v14.4h-14.4ZM623.2 1014.9h14.4v14.4h-14.4ZM632.8 928.3h14.4v14.4h-14.4ZM642.5 944.9h14.4v14.4h-14.4ZM652.1 1003.9h14.4v14.4h-14.4ZM661.8 943.0h14.4v14.4h-14.4ZM671.4 893.2h14.4v14.4h-14.4ZM681.1 815.8h14.4v14.4h-14.4ZM690.7 983.6h14.4v14.4h-14.4ZM700.3 911.7h14.4v14.4h-14.4ZM710.0 1013.1h14.4v14.4h-14.4ZM719.6 878.5h14.4v14.4h-14.4ZM729.3 771.6h14.4v14.4h-14.4ZM738.9 922.7h14.4v14.4h-14.4ZM748.6 932.0h14.4v14.4h-14.4ZM758.2 948.6h14.4v14.4h-14.4ZM767.8 812.1h14.4v14.4h-14.4ZM777.5 939.3h14.4v14.4h-14.4ZM787.1 967.0h14.4v14.4h-14.4ZM796.8 967.0h14.4v14.4h-14.4ZM806.4 854.5h14.4v14.4h-14.4ZM816.1 1013.1h14.4v14.4h-14.4ZM825.7 1011.2h14.4v14.4h-14.4ZM835.3 1009.4h14.4v14.4h-14.4ZM845.0 1003.9h14.4v14.4h-14.4ZM854.6 1016.8h14.4v14.4h-14.4ZM864.3 1007.6h14.4v14.4h-14.4ZM873.9 992.8h14.4v14.4h-14.4ZM883.6 915.4h14.4v14.4h-14.4ZM893.2 782.6h14.4v14.4h-14.4ZM902.8 1003.9h14.4v14.4h-14.4ZM912.5 891.4h14.4v14.4h-14.4ZM922.1 788.2h14.4v14.4h-14.4ZM931.8 880.3h14.4v14.4h-14.4ZM941.4 823.2h14.4v14.4h-14.4ZM951.1 981.7h14.4v14.4h-14.4ZM960.7 933.8h14.4v14.4h-14.4ZM970.4 952.2h14.4v14.4h-14.4ZM980.0 909.8h14.4v14.4h-14.4ZM989.6 948.6h14.4v14.4h-14.4ZM999.3 983.6h14.4v14.4h-14.4ZM1008.9 985.4h14.4v14.4h-14.4ZM1018.6 814.0h14.4v14.4h-14.4ZM1028.2 994.6h14.4v14.4h-14.4ZM1037.9 861.9h14.4v14.4h-14.4ZM1047.5 987.3h14.4v14.4h-14.4ZM1057.1 828.7h14.4v14.4h-14.4ZM1066.8 983.6h14.4v14.4h-14.4ZM1076.4 867.4h14.4v14.4h-14.4ZM1086.1 926.4h14.4v14.4h-14.4ZM1095.7 1006.6h14.4v14.4h-14.4ZM1105.4 1011.2h14.4v14.4h-14.4ZM1115.0 978.1h14.4v14.4h-14.4ZM1124.6 979.9h14.4v14.4h-14.4ZM1134.3 885.9h14.4v14.4h-14.4ZM1143.9 926.4h14.4v14.4h-14.4ZM1153.6 1014.9h14.4v14.4h-14.4ZM1163.2 983.6h14.4v14.4h-14.4ZM1172.9 878.5h14.4v14.4h-14.4ZM1182.5 957.8h14.4v14.4h-14.4ZM1192.1 1014.9h14.4v14.4h-14.4ZM1201.8 771.6h14.4v14.4h-14.4ZM1211.4 911.7h14.4v14.4h-14.4ZM1221.1 778.9h14.4v14.4h-14.4ZM1230.7 898.8h14.4v14.4h-14.4ZM1240.4 1018.6h14.4v14.4h-14.4ZM1250.0 920.9h14.4v14.4h-14.4ZM1259.6 941.2h14.4v14.4h-14.4ZM1269.3 943.0h14.4v14.4h-14.4ZM1278.9 896.9h14.4v14.4h-14.4ZM1288.6 791.8h14.4v14.4h-14.4ZM1298.2 968.8h14.4v14.4h-14.4ZM1307.9 850.8h14.4v14.4h-14.4ZM1317.5 991.0h14.4v14.4h-14.4ZM1327.2 948.6h14.4v14.4h-14.4ZM1336.8 1003.9h14.4v14.4h-14.4ZM1346.4 961.5h14.4v14.4h-14.4ZM1356.1 932.0h14.4v14.4h-14.4ZM1365.7 839.8h14.4v14.4h-14.4ZM1375.4 948.6h14.4v14.4h-14.4ZM1385.0 967.0h14.4v14.4h-14.4ZM1394.7 1013.1h14.4v14.4h-14.4ZM1404.3 943.0h14.4v14.4h-14.4ZM1413.9 998.3h14.4v14.4h-14.4ZM1423.6 952.2h14.4v14.4h-14.4ZM1433.2 801.1h14.4v14.4h-14.4ZM1442.9 944.9h14.4v14.4h-14.4ZM1452.5 957.8h14.4v14.4h-14.4ZM1462.2 906.2h14.4v14.4h-14.4ZM1471.8 836.1h14.4v14.4h-14.4ZM1481.4 978.1h14.4v14.4h-14.4ZM1491.1 911.7h14.4v14.4h-14.4ZM1500.7 994.6h14.4v14.4h-14.4ZM1510.4 896.9h14.4v14.4h-14.4ZM1520.0 878.5h14.4v14.4h-14.4ZM1529.7 948.6h14.4v14.4h-14.4ZM1539.3 906.2h14.4v14.4h-14.4ZM1548.9 1002.0h14.4v14.4h-14.4ZM1558.6 1003.9h14.4v14.4h-14.4ZM1568.2 1018.6h14.4v14.4h-14.4ZM1577.9 957.8h14.4v14.4h-14.4ZM1587.5 978.1h14.4v14.4h-14.4ZM1597.2 978.1h14.4v14.4h-14.4ZM1606.8 922.7h14.4v14.4h-14.4ZM1616.5 891.4h14.4v14.4h-14.4ZM1626.1 826.9h14.4v14.4h-14.4ZM1635.7 932.0h14.4v14.4h-14.4ZM1645.4 1014.9h14.4v14.4h-14.4ZM1655.0 834.2h14.4v14.4h-14.4ZM1664.7 930.1h14.4v14.4h-14.4ZM1674.3 736.5h14.4v14.4h-14.4ZM1684.0 793.7h14.4v14.4h-14.4ZM1693.6 1011.2h14.4v14.4h-14.4ZM1703.2 721.8h14.4v14.4h-14.4ZM1712.9 1000.2h14.4v14.4h-14.4ZM1722.5 771.6h14.4v14.4h-14.4ZM1732.2 1018.6h14.4v14.4h-14.4ZM1741.8 871.1h14.4v14.4h-14.4ZM1751.5 939.3h14.4v14.4h-14.4ZM1761.1 806.6h14.4v14.4h-14.4ZM1770.7 957.8h14.4v14.4h-14.4ZM1780.4 896.9h14.4v14.4h-14.4ZM1790.0 1013.1h14.4v14.4h-14.4ZM1799.7 871.1h14.4v14.4h-14.4ZM1809.3 974.4h14.4v14.4h-14.4ZM1819.0 1004.8h14.4v14.4h-14.4ZM1828.6 797.4h14.4v14.4h-14.4ZM1838.2 1006.6h14.4v14.4h-14.4ZM1847.9 994.6h14.4v14.4h-14.4ZM1857.5 849.0h14.4v14.4h-14.4ZM1867.2 943.0h14.4v14.4h-14.4ZM1876.8 902.5h14.4v14.4h-14.4ZM1886.5 952.2h14.4v14.4h-14.4ZM1896.1 924.6h14.4v14.4h-14.4ZM1905.8 911.7h14.4v14.4h-14.4Z" fill="none" stroke="#00ff00" stroke-width="9.6" stroke-linejoin="miter"/>
<path d="M379.67 1155.00V1558.40M572.53 1155.00V1558.40M765.40 1155.00V1558.40M958.26 1155.00V1558.40M1151.13 1155.00V1558.40M1344.00 1155.00V1558.40M1536.86 1155.00V1558.40M1729.73 1155.00V1558.40M1922.59 1155.00V1558.40" stroke="#262626" stroke-opacity="0.16" stroke-width="1.7" fill="none"/>
<path d="M186.8 1155.00V1558.40H1922.59" stroke="#262626" stroke-width="2" fill="none" stroke-linecap="square"/>
<path d="M186.8 1558.40h17.4M186.8 1356.70h17.4M186.8 1155.00h17.4M186.80 1558.40v-17.4M379.67 1558.40v-17.4M572.53 1558.40v-17.4M765.40 1558.40v-17.4M958.26 1558.40v-17.4M1151.13 1558.40v-17.4M1344.00 1558.40v-17.4M1536.86 1558.40v-17.4M1729.73 1558.40v-17.4M1922.59 1558.40v-17.4" stroke="#262626" stroke-width="2" fill="none"/>
<path d="M196.4 1229.6 L206.1 1425.3 L215.7 1439.4 L225.4 1348.6 L235.0 1501.9 L244.7 1265.9 L254.3 1425.3 L263.9 1421.2 L273.6 1261.9 L283.2 1554.4 L292.9 1290.1 L302.5 1554.4 L312.2 1278.0 L321.8 1368.8 L331.4 1526.1 L341.1 1403.1 L350.7 1536.2 L360.4 1423.3 L370.0 1554.4 L379.7 1421.2 L389.3 1544.3 L399.0 1387.0 L408.6 1457.6 L418.2 1296.2 L427.9 1358.7 L437.5 1322.4 L447.2 1376.9 L456.8 1334.5 L466.5 1435.4 L476.1 1387.0 L485.7 1441.4 L495.4 1497.9 L505.0 1306.3 L514.7 1300.2 L524.3 1467.6 L534.0 1300.2 L543.6 1524.1 L553.2 1497.9 L562.9 1433.3 L572.5 1497.9 L582.2 1546.3 L591.8 1477.7 L601.5 1350.6 L611.1 1518.1 L620.7 1401.1 L630.4 1389.0 L640.0 1463.6 L649.7 1429.3 L659.3 1366.8 L669.0 1506.0 L678.6 1469.7 L688.3 1324.4 L697.9 1449.5 L707.5 1280.1 L717.2 1455.5 L726.8 1548.3 L736.5 1508.0 L746.1 1506.0 L755.8 1518.1 L765.4 1548.3 L775.0 1473.7 L784.7 1524.1 L794.3 1497.9 L804.0 1374.9 L813.6 1508.0 L823.3 1538.2 L832.9 1395.0 L842.5 1497.9 L852.2 1401.1 L861.8 1497.9 L871.5 1489.8 L881.1 1497.9 L890.8 1554.4 L900.4 1497.9 L910.0 1364.8 L919.7 1497.9 L929.3 1360.7 L939.0 1518.1 L948.6 1540.2 L958.3 1477.7 L967.9 1407.1 L977.6 1510.0 L987.2 1477.7 L996.8 1550.3 L1006.5 1330.5 L1016.1 1550.3 L1025.8 1286.1 L1035.4 1497.9 L1045.1 1532.2 L1054.7 1354.7 L1064.3 1544.3 L1074.0 1302.2 L1083.6 1380.9 L1093.3 1413.2 L1102.9 1382.9 L1112.6 1465.6 L1122.2 1536.2 L1131.8 1542.3 L1141.5 1437.4 L1151.1 1451.5 L1160.8 1409.1 L1170.4 1433.3 L1180.1 1501.9 L1189.7 1405.1 L1199.3 1441.4 L1209.0 1249.8 L1218.6 1514.0 L1228.3 1457.6 L1237.9 1538.2 L1247.6 1477.7 L1257.2 1455.5 L1266.8 1393.0 L1276.5 1465.6 L1286.1 1497.9 L1295.8 1508.0 L1305.4 1407.1 L1315.1 1177.2 L1324.7 1457.6 L1334.4 1421.2 L1344.0 1286.1 L1353.6 1558.4 L1363.3 1467.6 L1372.9 1497.9 L1382.6 1411.2 L1392.2 1532.2 L1401.9 1538.2 L1411.5 1477.7 L1421.1 1391.0 L1430.8 1546.3 L1440.4 1330.5 L1450.1 1455.5 L1459.7 1497.9 L1469.4 1374.9 L1479.0 1352.7 L1488.6 1477.7 L1498.3 1497.9 L1507.9 1401.1 L1517.6 1546.3 L1527.2 1483.8 L1536.9 1538.2 L1546.5 1417.2 L1556.1 1487.8 L1565.8 1497.9 L1575.4 1522.1 L1585.1 1282.1 L1594.7 1445.4 L1604.4 1552.3 L1614.0 1366.8 L1623.7 1352.7 L1633.3 1489.8 L1642.9 1457.6 L1652.6 1544.3 L1662.2 1362.8 L1671.9 1310.3 L1681.5 1526.1 L1691.2 1255.8 L1700.8 1461.6 L1710.4 1213.5 L1720.1 1457.6 L1729.7 1382.9 L1739.4 1457.6 L1749.0 1393.0 L1758.7 1477.7 L1768.3 1358.7 L1777.9 1536.2 L1787.6 1457.6 L1797.2 1520.1 L1806.9 1326.4 L1816.5 1477.7 L1826.2 1261.9 L1835.8 1542.3 L1845.4 1364.8 L1855.1 1487.8 L1864.7 1328.5 L1874.4 1457.6 L1884.0 1497.9 L1893.7 1536.2 L1903.3 1346.6 L1913.0 1532.2" stroke="#ff0000" stroke-width="9.6" fill="none" stroke-linejoin="round"/>
<g fill="none" stroke="#ff0000" stroke-width="10"><circle cx="196.4" cy="1229.6" r="9.6"/><circle cx="206.1" cy="1425.3" r="9.6"/><circle cx="215.7" cy="1439.4" r="9.6"/><circle cx="225.4" cy="1348.6" r="9.6"/><circle cx="235.0" cy="1501.9" r="9.6"/><circle cx="244.7" cy="1265.9" r="9.6"/><circle cx="254.3" cy="1425.3" r="9.6"/><circle cx="263.9" cy="1421.2" r="9.6"/><circle cx="273.6" cy="1261.9" r="9.6"/><circle cx="283.2" cy="1554.4" r="9.6"/><circle cx="292.9" cy="1290.1" r="9.6"/><circle cx="302.5" cy="1554.4" r="9.6"/><circle cx="312.2" cy="1278.0" r="9.6"/><circle cx="321.8" cy="1368.8" r="9.6"/><circle cx="331.4" cy="1526.1" r="9.6"/><circle cx="341.1" cy="1403.1" r="9.6"/><circle cx="350.7" cy="1536.2" r="9.6"/><circle cx="360.4" cy="1423.3" r="9.6"/><circle cx="370.0" cy="1554.4" r="9.6"/><circle cx="379.7" cy="1421.2" r="9.6"/><circle cx="389.3" cy="1544.3" r="9.6"/><circle cx="399.0" cy="1387.0" r="9.6"/><circle cx="408.6" cy="1457.6" r="9.6"/><circle cx="418.2" cy="1296.2" r="9.6"/><circle cx="427.9" cy="1358.7" r="9.6"/><circle cx="437.5" cy="1322.4" r="9.6"/><circle cx="447.2" cy="1376.9" r="9.6"/><circle cx="456.8" cy="1334.5" r="9.6"/><circle cx="466.5" cy="1435.4" r="9.6"/><circle cx="476.1" cy="1387.0" r="9.6"/><circle cx="485.7" cy="1441.4" r="9.6"/><circle cx="495.4" cy="1497.9" r="9.6"/><circle cx="505.0" cy="1306.3" r="9.6"/><circle cx="514.7" cy="1300.2" r="9.6"/><circle cx="524.3" cy="1467.6" r="9.6"/><circle cx="534.0" cy="1300.2" r="9.6"/><circle cx="543.6" cy="1524.1" r="9.6"/><circle cx="553.2" cy="1497.9" r="9.6"/><circle cx="562.9" cy="1433.3" r="9.6"/><circle cx="572.5" cy="1497.9" r="9.6"/><circle cx="582.2" cy="1546.3" r="9.6"/><circle cx="591.8" cy="1477.7" r="9.6"/><circle cx="601.5" cy="1350.6" r="9.6"/><circle cx="611.1" cy="1518.1" r="9.6"/><circle cx="620.7" cy="1401.1" r="9.6"/><circle cx="630.4" cy="1389.0" r="9.6"/><circle cx="640.0" cy="1463.6" r="9.6"/><circle cx="649.7" cy="1429.3" r="9.6"/><circle cx="659.3" cy="1366.8" r="9.6"/><circle cx="669.0" cy="1506.0" r="9.6"/><circle cx="678.6" cy="1469.7" r="9.6"/><circle cx="688.3" cy="1324.4" r="9.6"/><circle cx="697.9" cy="1449.5" r="9.6"/><circle cx="707.5" cy="1280.1" r="9.6"/><circle cx="717.2" cy="1455.5" r="9.6"/><circle cx="726.8" cy="1548.3" r="9.6"/><circle cx="736.5" cy="1508.0" r="9.6"/><circle cx="746.1" cy="1506.0" r="9.6"/><circle cx="755.8" cy="1518.1" r="9.6"/><circle cx="765.4" cy="1548.3" r="9.6"/><circle cx="775.0" cy="1473.7" r="9.6"/><circle cx="784.7" cy="1524.1" r="9.6"/><circle cx="794.3" cy="1497.9" r="9.6"/><circle cx="804.0" cy="1374.9" r="9.6"/><circle cx="813.6" cy="1508.0" r="9.6"/><circle cx="823.3" cy="1538.2" r="9.6"/><circle cx="832.9" cy="1395.0" r="9.6"/><circle cx="842.5" cy="1497.9" r="9.6"/><circle cx="852.2" cy="1401.1" r="9.6"/><circle cx="861.8" cy="1497.9" r="9.6"/><circle cx="871.5" cy="1489.8" r="9.6"/><circle cx="881.1" cy="1497.9" r="9.6"/><circle cx="890.8" cy="1554.4" r="9.6"/><circle cx="900.4" cy="1497.9" r="9.6"/><circle cx="910.0" cy="1364.8" r="9.6"/><circle cx="919.7" cy="1497.9" r="9.6"/><circle cx="929.3" cy="1360.7" r="9.6"/><circle cx="939.0" cy="1518.1" r="9.6"/><circle cx="948.6" cy="1540.2" r="9.6"/><circle cx="958.3" cy="1477.7" r="9.6"/><circle cx="967.9" cy="1407.1" r="9.6"/><circle cx="977.6" cy="1510.0" r="9.6"/><circle cx="987.2" cy="1477.7" r="9.6"/><circle cx="996.8" cy="1550.3" r="9.6"/><circle cx="1006.5" cy="1330.5" r="9.6"/><circle cx="1016.1" cy="1550.3" r="9.6"/><circle cx="1025.8" cy="1286.1" r="9.6"/><circle cx="1035.4" cy="1497.9" r="9.6"/><circle cx="1045.1" cy="1532.2" r="9.6"/><circle cx="1054.7" cy="1354.7" r="9.6"/><circle cx="1064.3" cy="1544.3" r="9.6"/><circle cx="1074.0" cy="1302.2" r="9.6"/><circle cx="1083.6" cy="1380.9" r="9.6"/><circle cx="1093.3" cy="1413.2" r="9.6"/><circle cx="1102.9" cy="1382.9" r="9.6"/><circle cx="1112.6" cy="1465.6" r="9.6"/><circle cx="1122.2" cy="1536.2" r="9.6"/><circle cx="1131.8" cy="1542.3" r="9.6"/><circle cx="1141.5" cy="1437.4" r="9.6"/><circle cx="1151.1" cy="1451.5" r="9.6"/><circle cx="1160.8" cy="1409.1" r="9.6"/><circle cx="1170.4" cy="1433.3" r="9.6"/><circle cx="1180.1" cy="1501.9" r="9.6"/><circle cx="1189.7" cy="1405.1" r="9.6"/><circle cx="1199.3" cy="1441.4" r="9.6"/><circle cx="1209.0" cy="1249.8" r="9.6"/><circle cx="1218.6" cy="1514.0" r="9.6"/><circle cx="1228.3" cy="1457.6" r="9.6"/><circle cx="1237.9" cy="1538.2" r="9.6"/><circle cx="1247.6" cy="1477.7" r="9.6"/><circle cx="1257.2" cy="1455.5" r="9.6"/><circle cx="1266.8" cy="1393.0" r="9.6"/><circle cx="1276.5" cy="1465.6" r="9.6"/><circle cx="1286.1" cy="1497.9" r="9.6"/><circle cx="1295.8" cy="1508.0" r="9.6"/><circle cx="1305.4" cy="1407.1" r="9.6"/><circle cx="1315.1" cy="1177.2" r="9.6"/><circle cx="1324.7" cy="1457.6" r="9.6"/><circle cx="1334.4" cy="1421.2" r="9.6"/><circle cx="1344.0" cy="1286.1" r="9.6"/><circle cx="1353.6" cy="1558.4" r="9.6"/><circle cx="1363.3" cy="1467.6" r="9.6"/><circle cx="1372.9" cy="1497.9" r="9.6"/><circle cx="1382.6" cy="1411.2" r="9.6"/><circle cx="1392.2" cy="1532.2" r="9.6"/><circle cx="1401.9" cy="1538.2" r="9.6"/><circle cx="1411.5" cy="1477.7" r="9.6"/><circle cx="1421.1" cy="1391.0" r="9.6"/><circle cx="1430.8" cy="1546.3" r="9.6"/><circle cx="1440.4" cy="1330.5" r="9.6"/><circle cx="1450.1" cy="1455.5" r="9.6"/><circle cx="1459.7" cy="1497.9" r="9.6"/><circle cx="1469.4" cy="1374.9" r="9.6"/><circle cx="1479.0" cy="1352.7" r="9.6"/><circle cx="1488.6" cy="1477.7" r="9.6"/><circle cx="1498.3" cy="1497.9" r="9.6"/><circle cx="1507.9" cy="1401.1" r="9.6"/><circle cx="1517.6" cy="1546.3" r="9.6"/><circle cx="1527.2" cy="1483.8" r="9.6"/><circle cx="1536.9" cy="1538.2" r="9.6"/><circle cx="1546.5" cy="1417.2" r="9.6"/><circle cx="1556.1" cy="1487.8" r="9.6"/><circle cx="1565.8" cy="1497.9" r="9.6"/><circle cx="1575.4" cy="1522.1" r="9.6"/><circle cx="1585.1" cy="1282.1" r="9.6"/><circle cx="1594.7" cy="1445.4" r="9.6"/><circle cx="1604.4" cy="1552.3" r="9.6"/><circle cx="1614.0" cy="1366.8" r="9.6"/><circle cx="1623.7" cy="1352.7" r="9.6"/><circle cx="1633.3" cy="1489.8" r="9.6"/><circle cx="1642.9" cy="1457.6" r="9.6"/><circle cx="1652.6" cy="1544.3" r="9.6"/><circle cx="1662.2" cy="1362.8" r="9.6"/><circle cx="1671.9" cy="1310.3" r="9.6"/><circle cx="1681.5" cy="1526.1" r="9.6"/><circle cx="1691.2" cy="1255.8" r="9.6"/><circle cx="1700.8" cy="1461.6" r="9.6"/><circle cx="1710.4" cy="1213.5" r="9.6"/><circle cx="1720.1" cy="1457.6" r="9.6"/><circle cx="1729.7" cy="1382.9" r="9.6"/><circle cx="1739.4" cy="1457.6" r="9.6"/><circle cx="1749.0" cy="1393.0" r="9.6"/><circle cx="1758.7" cy="1477.7" r="9.6"/><circle cx="1768.3" cy="1358.7" r="9.6"/><circle cx="1777.9" cy="1536.2" r="9.6"/><circle cx="1787.6" cy="1457.6" r="9.6"/><circle cx="1797.2" cy="1520.1" r="9.6"/><circle cx="1806.9" cy="1326.4" r="9.6"/><circle cx="1816.5" cy="1477.7" r="9.6"/><circle cx="1826.2" cy="1261.9" r="9.6"/><circle cx="1835.8" cy="1542.3" r="9.6"/><circle cx="1845.4" cy="1364.8" r="9.6"/><circle cx="1855.1" cy="1487.8" r="9.6"/><circle cx="1864.7" cy="1328.5" r="9.6"/><circle cx="1874.4" cy="1457.6" r="9.6"/><circle cx="1884.0" cy="1497.9" r="9.6"/><circle cx="1893.7" cy="1536.2" r="9.6"/><circle cx="1903.3" cy="1346.6" r="9.6"/><circle cx="1913.0" cy="1532.2" r="9.6"/></g>
<path d="M196.4 1550.3 L206.1 1506.0 L215.7 1514.0 L225.4 1514.0 L235.0 1453.5 L244.7 1382.9 L254.3 1429.3 L263.9 1328.5 L273.6 1378.9 L283.2 1423.3 L292.9 1387.0 L302.5 1518.1 L312.2 1387.0 L321.8 1501.9 L331.4 1501.9 L341.1 1499.9 L350.7 1481.8 L360.4 1459.6 L370.0 1550.3 L379.7 1487.8 L389.3 1501.9 L399.0 1403.1 L408.6 1508.0 L418.2 1312.3 L427.9 1469.7 L437.5 1393.0 L447.2 1457.6 L456.8 1409.1 L466.5 1465.6 L476.1 1526.1 L485.7 1528.1 L495.4 1510.0 L505.0 1449.5 L514.7 1431.3 L524.3 1433.3 L534.0 1469.7 L543.6 1497.9 L553.2 1526.1 L562.9 1556.4 L572.5 1437.4 L582.2 1501.9 L591.8 1469.7 L601.5 1433.3 L611.1 1469.7 L620.7 1435.4 L630.4 1433.3 L640.0 1445.4 L649.7 1556.4 L659.3 1489.8 L669.0 1524.1 L678.6 1425.3 L688.3 1417.2 L697.9 1433.3 L707.5 1449.5 L717.2 1506.0 L726.8 1542.3 L736.5 1493.9 L746.1 1469.7 L755.8 1534.2 L765.4 1532.2 L775.0 1548.3 L784.7 1501.9 L794.3 1497.9 L804.0 1447.5 L813.6 1540.2 L823.3 1497.9 L832.9 1471.7 L842.5 1526.1 L852.2 1510.0 L861.8 1554.4 L871.5 1423.3 L881.1 1544.3 L890.8 1467.6 L900.4 1542.3 L910.0 1528.1 L919.7 1530.2 L929.3 1433.3 L939.0 1538.2 L948.6 1397.0 L958.3 1487.8 L967.9 1451.5 L977.6 1528.1 L987.2 1461.6 L996.8 1455.5 L1006.5 1425.3 L1016.1 1435.4 L1025.8 1415.2 L1035.4 1532.2 L1045.1 1382.9 L1054.7 1423.3 L1064.3 1421.2 L1074.0 1463.6 L1083.6 1497.9 L1093.3 1399.1 L1102.9 1455.5 L1112.6 1457.6 L1122.2 1520.1 L1131.8 1528.1 L1141.5 1382.9 L1151.1 1510.0 L1160.8 1491.8 L1170.4 1532.2 L1180.1 1516.0 L1189.7 1401.1 L1199.3 1459.6 L1209.0 1308.3 L1218.6 1493.9 L1228.3 1501.9 L1237.9 1542.3 L1247.6 1469.7 L1257.2 1499.9 L1266.8 1510.0 L1276.5 1520.1 L1286.1 1447.5 L1295.8 1411.2 L1305.4 1439.4 L1315.1 1302.2 L1324.7 1483.8 L1334.4 1497.9 L1344.0 1528.1 L1353.6 1485.8 L1363.3 1544.3 L1372.9 1491.8 L1382.6 1477.7 L1392.2 1423.3 L1401.9 1467.6 L1411.5 1445.4 L1421.1 1506.0 L1430.8 1542.3 L1440.4 1397.0 L1450.1 1437.4 L1459.7 1497.9 L1469.4 1469.7 L1479.0 1425.3 L1488.6 1520.1 L1498.3 1449.5 L1507.9 1445.4 L1517.6 1538.2 L1527.2 1512.0 L1536.9 1451.5 L1546.5 1473.7 L1556.1 1532.2 L1565.8 1499.9 L1575.4 1459.6 L1585.1 1489.8 L1594.7 1536.2 L1604.4 1449.5 L1614.0 1497.9 L1623.7 1415.2 L1633.3 1471.7 L1642.9 1479.7 L1652.6 1431.3 L1662.2 1370.8 L1671.9 1405.1 L1681.5 1457.6 L1691.2 1376.9 L1700.8 1487.8 L1710.4 1298.2 L1720.1 1532.2 L1729.7 1429.3 L1739.4 1469.7 L1749.0 1449.5 L1758.7 1457.6 L1768.3 1356.7 L1777.9 1506.0 L1787.6 1389.0 L1797.2 1556.4 L1806.9 1459.6 L1816.5 1489.8 L1826.2 1380.9 L1835.8 1528.1 L1845.4 1497.9 L1855.1 1516.0 L1864.7 1475.7 L1874.4 1489.8 L1884.0 1380.9 L1893.7 1453.5 L1903.3 1403.1 L1913.0 1463.6" stroke="#00ff00" stroke-width="9.6" fill="none" stroke-linejoin="round"/>
<path d="M189.2 1543.1h14.4v14.4h-14.4ZM198.9 1498.8h14.4v14.4h-14.4ZM208.5 1506.8h14.4v14.4h-14.4ZM218.2 1506.8h14.4v14.4h-14.4ZM227.8 1446.3h14.4v14.4h-14.4ZM237.5 1375.7h14.4v14.4h-14.4ZM247.1 1422.1h14.4v14.4h-14.4ZM256.7 1321.3h14.4v14.4h-14.4ZM266.4 1371.7h14.4v14.4h-14.4ZM276.0 1416.1h14.4v14.4h-14.4ZM285.7 1379.8h14.4v14.4h-14.4ZM295.3 1510.9h14.4v14.4h-14.4ZM305.0 1379.8h14.4v14.4h-14.4ZM314.6 1494.7h14.4v14.4h-14.4ZM324.2 1494.7h14.4v14.4h-14.4ZM333.9 1492.7h14.4v14.4h-14.4ZM343.5 1474.6h14.4v14.4h-14.4ZM353.2 1452.4h14.4v14.4h-14.4ZM362.8 1543.1h14.4v14.4h-14.4ZM372.5 1480.6h14.4v14.4h-14.4ZM382.1 1494.7h14.4v14.4h-14.4ZM391.8 1395.9h14.4v14.4h-14.4ZM401.4 1500.8h14.4v14.4h-14.4ZM411.0 1305.1h14.4v14.4h-14.4ZM420.7 1462.5h14.4v14.4h-14.4ZM430.3 1385.8h14.4v14.4h-14.4ZM440.0 1450.4h14.4v14.4h-14.4ZM449.6 1401.9h14.4v14.4h-14.4ZM459.3 1458.4h14.4v14.4h-14.4ZM468.9 1518.9h14.4v14.4h-14.4ZM478.5 1520.9h14.4v14.4h-14.4ZM488.2 1502.8h14.4v14.4h-14.4ZM497.8 1442.3h14.4v14.4h-14.4ZM507.5 1424.1h14.4v14.4h-14.4ZM517.1 1426.1h14.4v14.4h-14.4ZM526.8 1462.5h14.4v14.4h-14.4ZM536.4 1490.7h14.4v14.4h-14.4ZM546.0 1518.9h14.4v14.4h-14.4ZM555.7 1549.2h14.4v14.4h-14.4ZM565.3 1430.2h14.4v14.4h-14.4ZM575.0 1494.7h14.4v14.4h-14.4ZM584.6 1462.5h14.4v14.4h-14.4ZM594.3 1426.1h14.4v14.4h-14.4ZM603.9 1462.5h14.4v14.4h-14.4ZM613.5 1428.2h14.4v14.4h-14.4ZM623.2 1426.1h14.4v14.4h-14.4ZM632.8 1438.2h14.4v14.4h-14.4ZM642.5 1549.2h14.4v14.4h-14.4ZM652.1 1482.6h14.4v14.4h-14.4ZM661.8 1516.9h14.4v14.4h-14.4ZM671.4 1418.1h14.4v14.4h-14.4ZM681.1 1410.0h14.4v14.4h-14.4ZM690.7 1426.1h14.4v14.4h-14.4ZM700.3 1442.3h14.4v14.4h-14.4ZM710.0 1498.8h14.4v14.4h-14.4ZM719.6 1535.1h14.4v14.4h-14.4ZM729.3 1486.7h14.4v14.4h-14.4ZM738.9 1462.5h14.4v14.4h-14.4ZM748.6 1527.0h14.4v14.4h-14.4ZM758.2 1525.0h14.4v14.4h-14.4ZM767.8 1541.1h14.4v14.4h-14.4ZM777.5 1494.7h14.4v14.4h-14.4ZM787.1 1490.7h14.4v14.4h-14.4ZM796.8 1440.3h14.4v14.4h-14.4ZM806.4 1533.0h14.4v14.4h-14.4ZM816.1 1490.7h14.4v14.4h-14.4ZM825.7 1464.5h14.4v14.4h-14.4ZM835.3 1518.9h14.4v14.4h-14.4ZM845.0 1502.8h14.4v14.4h-14.4ZM854.6 1547.2h14.4v14.4h-14.4ZM864.3 1416.1h14.4v14.4h-14.4ZM873.9 1537.1h14.4v14.4h-14.4ZM883.6 1460.4h14.4v14.4h-14.4ZM893.2 1535.1h14.4v14.4h-14.4ZM902.8 1520.9h14.4v14.4h-14.4ZM912.5 1523.0h14.4v14.4h-14.4ZM922.1 1426.1h14.4v14.4h-14.4ZM931.8 1531.0h14.4v14.4h-14.4ZM941.4 1389.8h14.4v14.4h-14.4ZM951.1 1480.6h14.4v14.4h-14.4ZM960.7 1444.3h14.4v14.4h-14.4ZM970.4 1520.9h14.4v14.4h-14.4ZM980.0 1454.4h14.4v14.4h-14.4ZM989.6 1448.3h14.4v14.4h-14.4ZM999.3 1418.1h14.4v14.4h-14.4ZM1008.9 1428.2h14.4v14.4h-14.4ZM1018.6 1408.0h14.4v14.4h-14.4ZM1028.2 1525.0h14.4v14.4h-14.4ZM1037.9 1375.7h14.4v14.4h-14.4ZM1047.5 1416.1h14.4v14.4h-14.4ZM1057.1 1414.0h14.4v14.4h-14.4ZM1066.8 1456.4h14.4v14.4h-14.4ZM1076.4 1490.7h14.4v14.4h-14.4ZM1086.1 1391.9h14.4v14.4h-14.4ZM1095.7 1448.3h14.4v14.4h-14.4ZM1105.4 1450.4h14.4v14.4h-14.4ZM1115.0 1512.9h14.4v14.4h-14.4ZM1124.6 1520.9h14.4v14.4h-14.4ZM1134.3 1375.7h14.4v14.4h-14.4ZM1143.9 1502.8h14.4v14.4h-14.4ZM1153.6 1484.6h14.4v14.4h-14.4ZM1163.2 1525.0h14.4v14.4h-14.4ZM1172.9 1508.8h14.4v14.4h-14.4ZM1182.5 1393.9h14.4v14.4h-14.4ZM1192.1 1452.4h14.4v14.4h-14.4ZM1201.8 1301.1h14.4v14.4h-14.4ZM1211.4 1486.7h14.4v14.4h-14.4ZM1221.1 1494.7h14.4v14.4h-14.4ZM1230.7 1535.1h14.4v14.4h-14.4ZM1240.4 1462.5h14.4v14.4h-14.4ZM1250.0 1492.7h14.4v14.4h-14.4ZM1259.6 1502.8h14.4v14.4h-14.4ZM1269.3 1512.9h14.4v14.4h-14.4ZM1278.9 1440.3h14.4v14.4h-14.4ZM1288.6 1404.0h14.4v14.4h-14.4ZM1298.2 1432.2h14.4v14.4h-14.4ZM1307.9 1295.0h14.4v14.4h-14.4ZM1317.5 1476.6h14.4v14.4h-14.4ZM1327.2 1490.7h14.4v14.4h-14.4ZM1336.8 1520.9h14.4v14.4h-14.4ZM1346.4 1478.6h14.4v14.4h-14.4ZM1356.1 1537.1h14.4v14.4h-14.4ZM1365.7 1484.6h14.4v14.4h-14.4ZM1375.4 1470.5h14.4v14.4h-14.4ZM1385.0 1416.1h14.4v14.4h-14.4ZM1394.7 1460.4h14.4v14.4h-14.4ZM1404.3 1438.2h14.4v14.4h-14.4ZM1413.9 1498.8h14.4v14.4h-14.4ZM1423.6 1535.1h14.4v14.4h-14.4ZM1433.2 1389.8h14.4v14.4h-14.4ZM1442.9 1430.2h14.4v14.4h-14.4ZM1452.5 1490.7h14.4v14.4h-14.4ZM1462.2 1462.5h14.4v14.4h-14.4ZM1471.8 1418.1h14.4v14.4h-14.4ZM1481.4 1512.9h14.4v14.4h-14.4ZM1491.1 1442.3h14.4v14.4h-14.4ZM1500.7 1438.2h14.4v14.4h-14.4ZM1510.4 1531.0h14.4v14.4h-14.4ZM1520.0 1504.8h14.4v14.4h-14.4ZM1529.7 1444.3h14.4v14.4h-14.4ZM1539.3 1466.5h14.4v14.4h-14.4ZM1548.9 1525.0h14.4v14.4h-14.4ZM1558.6 1492.7h14.4v14.4h-14.4ZM1568.2 1452.4h14.4v14.4h-14.4ZM1577.9 1482.6h14.4v14.4h-14.4ZM1587.5 1529.0h14.4v14.4h-14.4ZM1597.2 1442.3h14.4v14.4h-14.4ZM1606.8 1490.7h14.4v14.4h-14.4ZM1616.5 1408.0h14.4v14.4h-14.4ZM1626.1 1464.5h14.4v14.4h-14.4ZM1635.7 1472.5h14.4v14.4h-14.4ZM1645.4 1424.1h14.4v14.4h-14.4ZM1655.0 1363.6h14.4v14.4h-14.4ZM1664.7 1397.9h14.4v14.4h-14.4ZM1674.3 1450.4h14.4v14.4h-14.4ZM1684.0 1369.7h14.4v14.4h-14.4ZM1693.6 1480.6h14.4v14.4h-14.4ZM1703.2 1291.0h14.4v14.4h-14.4ZM1712.9 1525.0h14.4v14.4h-14.4ZM1722.5 1422.1h14.4v14.4h-14.4ZM1732.2 1462.5h14.4v14.4h-14.4ZM1741.8 1442.3h14.4v14.4h-14.4ZM1751.5 1450.4h14.4v14.4h-14.4ZM1761.1 1349.5h14.4v14.4h-14.4ZM1770.7 1498.8h14.4v14.4h-14.4ZM1780.4 1381.8h14.4v14.4h-14.4ZM1790.0 1549.2h14.4v14.4h-14.4ZM1799.7 1452.4h14.4v14.4h-14.4ZM1809.3 1482.6h14.4v14.4h-14.4ZM1819.0 1373.7h14.4v14.4h-14.4ZM1828.6 1520.9h14.4v14.4h-14.4ZM1838.2 1490.7h14.4v14.4h-14.4ZM1847.9 1508.8h14.4v14.4h-14.4ZM1857.5 1468.5h14.4v14.4h-14.4ZM1867.2 1482.6h14.4v14.4h-14.4ZM1876.8 1373.7h14.4v14.4h-14.4ZM1886.5 1446.3h14.4v14.4h-14.4ZM1896.1 1395.9h14.4v14.4h-14.4ZM1905.8 1456.4h14.4v14.4h-14.4Z" fill="none" stroke="#00ff00" stroke-width="9.6" stroke-linejoin="miter"/>
<path d="M231.4 50H329" stroke="#ff0000" stroke-width="9.6"/>
<circle cx="281.2" cy="50" r="9.6" fill="none" stroke="#ff0000" stroke-width="10"/>
<path d="M231.3 116.5H329.6" stroke="#00ff00" stroke-width="9.6"/>
<path d="M273.3 109.3h14.4v14.4h-14.4Z" fill="none" stroke="#00ff00" stroke-width="9.6"/>
<path d="M388.80 2031.50V3175.90M539.20 2031.50V3175.90M689.60 2031.50V3175.90M238.40 2947.02H689.60M238.40 2718.14H689.60M238.40 2489.26H689.60M238.40 2260.38H689.60M238.40 2031.50H689.60" stroke="#262626" stroke-opacity="0.16" stroke-width="1.7" fill="none"/>
<path d="M238.40 2031.50V3175.90H689.60" stroke="#262626" stroke-width="2" fill="none" stroke-linecap="square"/>
<path d="M238.40 3175.90h10.6M238.40 2947.02h10.6M238.40 2718.14h10.6M238.40 2489.26h10.6M238.40 2260.38h10.6M238.40 2031.50h10.6M238.40 3175.90v-10.6M388.80 3175.90v-10.6M539.20 3175.90v-10.6M689.60 3175.90v-10.6" stroke="#262626" stroke-width="2" fill="none"/>
<path d="M236.4 3175.9 L236.4 3169.5 L237.2 3169.5 L237.2 3163.1 L238.8 3163.1 L238.8 3156.7 L240.0 3156.7 L240.0 3150.3 L241.0 3150.3 L241.0 3143.9 L242.0 3143.9 L242.0 3137.5 L243.0 3137.5 L243.0 3131.1 L244.0 3131.1 L244.0 3124.8 L245.1 3124.8 L245.1 3118.4 L245.9 3118.4 L245.9 3112.0 L246.4 3112.0 L246.4 3105.6 L246.8 3105.6 L246.8 3099.2 L247.2 3099.2 L247.2 3092.8 L247.6 3092.8 L247.6 3086.4 L248.1 3086.4 L248.1 3080.0 L248.5 3080.0 L248.5 3073.6 L248.9 3073.6 L248.9 3067.2 L249.3 3067.2 L249.3 3060.8 L249.8 3060.8 L249.8 3054.4 L250.5 3054.4 L250.5 3048.0 L251.1 3048.0 L251.1 3041.6 L251.8 3041.6 L251.8 3035.2 L252.4 3035.2 L252.4 3028.9 L253.0 3028.9 L253.0 3022.5 L253.7 3022.5 L253.7 3016.1 L254.5 3016.1 L254.5 3009.7 L255.3 3009.7 L255.3 3003.3 L256.0 3003.3 L256.0 2996.9 L256.8 2996.9 L256.8 2990.5 L257.6 2990.5 L257.6 2984.1 L258.3 2984.1 L258.3 2977.7 L259.1 2977.7 L259.1 2971.3 L260.1 2971.3 L260.1 2964.9 L261.0 2964.9 L261.0 2958.5 L262.0 2958.5 L262.0 2952.1 L262.9 2952.1 L262.9 2945.7 L263.9 2945.7 L263.9 2939.3 L264.8 2939.3 L264.8 2933.0 L265.4 2933.0 L265.4 2926.6 L265.9 2926.6 L265.9 2920.2 L266.4 2920.2 L266.4 2913.8 L267.0 2913.8 L267.0 2907.4 L267.5 2907.4 L267.5 2901.0 L268.0 2901.0 L268.0 2894.6 L268.6 2894.6 L268.6 2888.2 L269.1 2888.2 L269.1 2881.8 L269.6 2881.8 L269.6 2875.4 L270.2 2875.4 L270.2 2869.0 L270.7 2869.0 L270.7 2862.6 L271.3 2862.6 L271.3 2856.2 L271.8 2856.2 L271.8 2849.8 L272.4 2849.8 L272.4 2843.4 L272.9 2843.4 L272.9 2837.1 L273.5 2837.1 L273.5 2830.7 L274.0 2830.7 L274.0 2824.3 L275.8 2824.3 L275.8 2817.9 L278.4 2817.9 L278.4 2811.5 L280.9 2811.5 L280.9 2805.1 L282.2 2805.1 L282.2 2798.7 L282.8 2798.7 L282.8 2792.3 L283.3 2792.3 L283.3 2785.9 L283.9 2785.9 L283.9 2779.5 L284.4 2779.5 L284.4 2773.1 L285.5 2773.1 L285.5 2766.7 L286.9 2766.7 L286.9 2760.3 L288.2 2760.3 L288.2 2753.9 L289.6 2753.9 L289.6 2747.5 L290.6 2747.5 L290.6 2741.2 L291.3 2741.2 L291.3 2734.8 L291.9 2734.8 L291.9 2728.4 L292.6 2728.4 L292.6 2722.0 L293.2 2722.0 L293.2 2715.6 L293.8 2715.6 L293.8 2709.2 L294.5 2709.2 L294.5 2702.8 L295.1 2702.8 L295.1 2696.4 L295.6 2696.4 L295.6 2690.0 L296.2 2690.0 L296.2 2683.6 L297.8 2683.6 L297.8 2677.2 L299.4 2677.2 L299.4 2670.8 L301.0 2670.8 L301.0 2664.4 L302.4 2664.4 L302.4 2658.0 L303.8 2658.0 L303.8 2651.6 L305.2 2651.6 L305.2 2645.3 L306.7 2645.3 L306.7 2638.9 L307.5 2638.9 L307.5 2632.5 L307.5 2626.1 L307.5 2619.7 L307.5 2613.3 L307.5 2606.9 L307.5 2600.5 L307.9 2600.5 L307.9 2594.1 L308.9 2594.1 L308.9 2587.7 L309.1 2587.7 L309.1 2581.3 L309.1 2574.9 L309.1 2568.5 L309.1 2562.1 L309.1 2555.8 L309.1 2549.4 L309.1 2543.0 L309.1 2536.6 L309.3 2536.6 L309.3 2530.2 L309.9 2530.2 L309.9 2523.8 L310.4 2523.8 L310.4 2517.4 L311.4 2517.4 L311.4 2511.0 L313.0 2511.0 L313.0 2504.6 L314.4 2504.6 L314.4 2498.2 L315.5 2498.2 L315.5 2491.8 L316.5 2491.8 L316.5 2485.4 L317.7 2485.4 L317.7 2479.0 L319.1 2479.0 L319.1 2472.6 L320.4 2472.6 L320.4 2466.2 L321.8 2466.2 L321.8 2459.9 L322.5 2459.9 L322.5 2453.5 L323.1 2453.5 L323.1 2447.1 L323.7 2447.1 L323.7 2440.7 L324.2 2440.7 L324.2 2434.3 L324.8 2434.3 L324.8 2427.9 L326.7 2427.9 L326.7 2421.5 L330.3 2421.5 L330.3 2415.1 L331.0 2415.1 L331.0 2408.7 L331.7 2408.7 L331.7 2402.3 L332.4 2402.3 L332.4 2395.9 L333.1 2395.9 L333.1 2389.5 L334.0 2389.5 L334.0 2383.1 L334.9 2383.1 L334.9 2376.7 L335.8 2376.7 L335.8 2370.3 L337.1 2370.3 L337.1 2364.0 L339.5 2364.0 L339.5 2357.6 L341.5 2357.6 L341.5 2351.2 L342.3 2351.2 L342.3 2344.8 L343.1 2344.8 L343.1 2338.4 L343.9 2338.4 L343.9 2332.0 L344.8 2332.0 L344.8 2325.6 L346.0 2325.6 L346.0 2319.2 L347.2 2319.2 L347.2 2312.8 L348.4 2312.8 L348.4 2306.4 L349.5 2306.4 L349.5 2300.0 L349.9 2300.0 L349.9 2293.6 L350.3 2293.6 L350.3 2287.2 L350.7 2287.2 L350.7 2280.8 L351.1 2280.8 L351.1 2274.4 L352.2 2274.4 L352.2 2268.1 L353.3 2268.1 L353.3 2261.7 L354.4 2261.7 L354.4 2255.3 L356.0 2255.3 L356.0 2248.9 L357.6 2248.9 L357.6 2242.5 L359.2 2242.5 L359.2 2236.1 L360.8 2236.1 L360.8 2229.7 L365.6 2229.7 L365.6 2223.3 L366.0 2223.3 L366.0 2216.9 L366.5 2216.9 L366.5 2210.5 L366.9 2210.5 L366.9 2204.1 L370.3 2204.1 L370.3 2197.7 L374.0 2197.7 L374.0 2191.3 L376.7 2191.3 L376.7 2184.9 L384.5 2184.9 L384.5 2178.5 L387.0 2178.5 L387.0 2172.2 L389.1 2172.2 L389.1 2165.8 L391.2 2165.8 L391.2 2159.4 L394.3 2159.4 L394.3 2153.0 L396.7 2153.0 L396.7 2146.6 L398.0 2146.6 L398.0 2140.2 L399.3 2140.2 L399.3 2133.8 L407.7 2133.8 L407.7 2127.4 L408.2 2127.4 L408.2 2121.0 L408.6 2121.0 L408.6 2114.6 L409.1 2114.6 L409.1 2108.2 L411.8 2108.2 L411.8 2101.8 L414.1 2101.8 L414.1 2095.4 L414.6 2095.4 L414.6 2089.0 L415.1 2089.0 L415.1 2082.6 L415.5 2082.6 L415.5 2076.3 L423.4 2076.3 L423.4 2069.9 L427.2 2069.9 L427.2 2063.5 L428.4 2063.5 L428.4 2057.1 L429.5 2057.1 L429.5 2050.7 L465.6 2050.7 L465.6 2044.3 L489.8 2044.3 L489.8 2037.9 L506.7 2037.9 L506.7 2031.5" stroke="#0072bd" stroke-width="9.2" fill="none" stroke-linejoin="round" stroke-linecap="butt"/>
<path d="M238.3 3175.9 L238.3 3169.5 L238.4 3169.5 L238.4 3163.1 L238.8 3163.1 L238.8 3156.7 L239.1 3156.7 L239.1 3150.3 L239.5 3150.3 L239.5 3143.9 L239.8 3143.9 L239.8 3137.5 L240.2 3137.5 L240.2 3131.1 L240.5 3131.1 L240.5 3124.8 L240.8 3124.8 L240.8 3118.4 L241.2 3118.4 L241.2 3112.0 L241.5 3112.0 L241.5 3105.6 L241.8 3105.6 L241.8 3099.2 L242.1 3099.2 L242.1 3092.8 L242.5 3092.8 L242.5 3086.4 L242.8 3086.4 L242.8 3080.0 L243.1 3080.0 L243.1 3073.6 L243.4 3073.6 L243.4 3067.2 L243.7 3067.2 L243.7 3060.8 L244.2 3060.8 L244.2 3054.4 L244.8 3054.4 L244.8 3048.0 L245.4 3048.0 L245.4 3041.6 L246.1 3041.6 L246.1 3035.2 L246.7 3035.2 L246.7 3028.9 L247.4 3028.9 L247.4 3022.5 L247.9 3022.5 L247.9 3016.1 L248.2 3016.1 L248.2 3009.7 L248.5 3009.7 L248.5 3003.3 L248.8 3003.3 L248.8 2996.9 L249.1 2996.9 L249.1 2990.5 L249.5 2990.5 L249.5 2984.1 L249.8 2984.1 L249.8 2977.7 L250.1 2977.7 L250.1 2971.3 L250.4 2971.3 L250.4 2964.9 L250.7 2964.9 L250.7 2958.5 L251.1 2958.5 L251.1 2952.1 L251.4 2952.1 L251.4 2945.7 L251.9 2945.7 L251.9 2939.3 L252.5 2939.3 L252.5 2933.0 L253.2 2933.0 L253.2 2926.6 L253.8 2926.6 L253.8 2920.2 L254.4 2920.2 L254.4 2913.8 L255.1 2913.8 L255.1 2907.4 L255.4 2907.4 L255.4 2901.0 L255.6 2901.0 L255.6 2894.6 L255.8 2894.6 L255.8 2888.2 L256.0 2888.2 L256.0 2881.8 L256.2 2881.8 L256.2 2875.4 L256.4 2875.4 L256.4 2869.0 L256.6 2869.0 L256.6 2862.6 L256.8 2862.6 L256.8 2856.2 L257.0 2856.2 L257.0 2849.8 L257.2 2849.8 L257.2 2843.4 L257.4 2843.4 L257.4 2837.1 L257.6 2837.1 L257.6 2830.7 L257.8 2830.7 L257.8 2824.3 L258.0 2824.3 L258.0 2817.9 L260.2 2817.9 L260.2 2811.5 L263.9 2811.5 L263.9 2805.1 L264.3 2805.1 L264.3 2798.7 L264.7 2798.7 L264.7 2792.3 L265.1 2792.3 L265.1 2785.9 L265.5 2785.9 L265.5 2779.5 L265.9 2779.5 L265.9 2773.1 L266.2 2773.1 L266.2 2766.7 L266.6 2766.7 L266.6 2760.3 L267.0 2760.3 L267.0 2753.9 L267.4 2753.9 L267.4 2747.5 L267.7 2747.5 L267.7 2741.2 L268.0 2741.2 L268.0 2734.8 L268.2 2734.8 L268.2 2728.4 L268.5 2728.4 L268.5 2722.0 L268.8 2722.0 L268.8 2715.6 L269.0 2715.6 L269.0 2709.2 L269.3 2709.2 L269.3 2702.8 L269.6 2702.8 L269.6 2696.4 L270.5 2696.4 L270.5 2690.0 L270.8 2690.0 L270.8 2683.6 L271.1 2683.6 L271.1 2677.2 L271.4 2677.2 L271.4 2670.8 L271.7 2670.8 L271.7 2664.4 L272.0 2664.4 L272.0 2658.0 L272.3 2658.0 L272.3 2651.6 L272.6 2651.6 L272.6 2645.3 L272.9 2645.3 L272.9 2638.9 L273.2 2638.9 L273.2 2632.5 L273.6 2632.5 L273.6 2626.1 L274.2 2626.1 L274.2 2619.7 L275.0 2619.7 L275.0 2613.3 L275.7 2613.3 L275.7 2606.9 L276.4 2606.9 L276.4 2600.5 L276.8 2600.5 L276.8 2594.1 L276.8 2587.7 L277.0 2587.7 L277.0 2581.3 L277.2 2581.3 L277.2 2574.9 L277.4 2574.9 L277.4 2568.5 L277.5 2568.5 L277.5 2562.1 L277.7 2562.1 L277.7 2555.8 L277.9 2555.8 L277.9 2549.4 L278.1 2549.4 L278.1 2543.0 L278.3 2543.0 L278.3 2536.6 L279.0 2536.6 L279.0 2530.2 L280.3 2530.2 L280.3 2523.8 L281.6 2523.8 L281.6 2517.4 L281.9 2517.4 L281.9 2511.0 L282.1 2511.0 L282.1 2504.6 L282.3 2504.6 L282.3 2498.2 L282.5 2498.2 L282.5 2491.8 L282.7 2491.8 L282.7 2485.4 L282.9 2485.4 L282.9 2479.0 L283.1 2479.0 L283.1 2472.6 L283.9 2472.6 L283.9 2466.2 L285.5 2466.2 L285.5 2459.9 L286.9 2459.9 L286.9 2453.5 L287.9 2453.5 L287.9 2447.1 L289.0 2447.1 L289.0 2440.7 L290.0 2440.7 L290.0 2434.3 L290.8 2434.3 L290.8 2427.9 L291.6 2427.9 L291.6 2421.5 L292.4 2421.5 L292.4 2415.1 L293.2 2415.1 L293.2 2408.7 L293.9 2408.7 L293.9 2402.3 L294.6 2402.3 L294.6 2395.9 L295.3 2395.9 L295.3 2389.5 L296.0 2389.5 L296.0 2383.1 L296.9 2383.1 L296.9 2376.7 L297.8 2376.7 L297.8 2370.3 L298.7 2370.3 L298.7 2364.0 L299.7 2364.0 L299.7 2357.6 L301.3 2357.6 L301.3 2351.2 L302.8 2351.2 L302.8 2344.8 L303.7 2344.8 L303.7 2338.4 L304.7 2338.4 L304.7 2332.0 L305.6 2332.0 L305.6 2325.6 L306.5 2325.6 L306.5 2319.2 L306.9 2319.2 L306.9 2312.8 L307.1 2312.8 L307.1 2306.4 L307.2 2306.4 L307.2 2300.0 L307.4 2300.0 L307.4 2293.6 L307.9 2293.6 L307.9 2287.2 L308.5 2287.2 L308.5 2280.8 L309.1 2280.8 L309.1 2274.4 L309.7 2274.4 L309.7 2268.1 L310.3 2268.1 L310.3 2261.7 L310.9 2261.7 L310.9 2255.3 L311.5 2255.3 L311.5 2248.9 L312.0 2248.9 L312.0 2242.5 L313.0 2242.5 L313.0 2236.1 L314.3 2236.1 L314.3 2229.7 L315.6 2229.7 L315.6 2223.3 L316.5 2223.3 L316.5 2216.9 L317.4 2216.9 L317.4 2210.5 L318.3 2210.5 L318.3 2204.1 L319.5 2204.1 L319.5 2197.7 L321.1 2197.7 L321.1 2191.3 L323.0 2191.3 L323.0 2184.9 L325.1 2184.9 L325.1 2178.5 L326.0 2178.5 L326.0 2172.2 L326.8 2172.2 L326.8 2165.8 L327.6 2165.8 L327.6 2159.4 L328.4 2159.4 L328.4 2153.0 L329.2 2153.0 L329.2 2146.6 L330.0 2146.6 L330.0 2140.2 L330.8 2140.2 L330.8 2133.8 L331.6 2133.8 L331.6 2127.4 L332.9 2127.4 L332.9 2121.0 L334.3 2121.0 L334.3 2114.6 L343.7 2114.6 L343.7 2108.2 L345.8 2108.2 L345.8 2101.8 L347.0 2101.8 L347.0 2095.4 L348.0 2095.4 L348.0 2089.0 L349.0 2089.0 L349.0 2082.6 L357.5 2082.6 L357.5 2076.3 L358.1 2076.3 L358.1 2069.9 L358.7 2069.9 L358.7 2063.5 L359.8 2063.5 L359.8 2057.1 L362.1 2057.1 L362.1 2050.7 L369.7 2050.7 L369.7 2044.3 L384.4 2044.3 L384.4 2037.9 L389.9 2037.9 L389.9 2031.5" stroke="#d95319" stroke-width="9.2" fill="none" stroke-linejoin="round" stroke-linecap="butt"/>
<path d="M998.73 2027.70V3175.90M1149.57 2027.70V3175.90M1300.40 2027.70V3175.90M847.90 2946.26H1300.40M847.90 2716.62H1300.40M847.90 2486.98H1300.40M847.90 2257.34H1300.40M847.90 2027.70H1300.40" stroke="#262626" stroke-opacity="0.16" stroke-width="1.7" fill="none"/>
<path d="M847.90 2027.70V3175.90H1300.40" stroke="#262626" stroke-width="2" fill="none" stroke-linecap="square"/>
<path d="M847.90 3175.90h10.6M847.90 2946.26h10.6M847.90 2716.62h10.6M847.90 2486.98h10.6M847.90 2257.34h10.6M847.90 2027.70h10.6M847.90 3175.90v-10.6M998.73 3175.90v-10.6M1149.57 3175.90v-10.6M1300.40 3175.90v-10.6" stroke="#262626" stroke-width="2" fill="none"/>
<path d="M853.0 3175.9 L853.0 3169.5 L853.6 3169.5 L853.6 3163.1 L854.6 3163.1 L854.6 3156.7 L857.9 3156.7 L857.9 3150.2 L858.8 3150.2 L858.8 3143.8 L859.7 3143.8 L859.7 3137.4 L860.1 3137.4 L860.1 3131.0 L860.5 3131.0 L860.5 3124.6 L860.7 3124.6 L860.7 3118.2 L861.0 3118.2 L861.0 3111.8 L861.2 3111.8 L861.2 3105.3 L861.4 3105.3 L861.4 3098.9 L866.4 3098.9 L866.4 3092.5 L871.3 3092.5 L871.3 3086.1 L872.0 3086.1 L872.0 3079.7 L872.7 3079.7 L872.7 3073.3 L873.6 3073.3 L873.6 3066.9 L874.6 3066.9 L874.6 3060.4 L875.5 3060.4 L875.5 3054.0 L876.4 3054.0 L876.4 3047.6 L877.2 3047.6 L877.2 3041.2 L879.4 3041.2 L879.4 3034.8 L882.8 3034.8 L882.8 3028.4 L884.4 3028.4 L884.4 3022.0 L885.2 3022.0 L885.2 3015.5 L885.2 3009.1 L885.2 3002.7 L885.2 2996.3 L885.2 2989.9 L885.6 2989.9 L885.6 2983.5 L886.0 2983.5 L886.0 2977.0 L887.5 2977.0 L887.5 2970.6 L889.2 2970.6 L889.2 2964.2 L890.3 2964.2 L890.3 2957.8 L891.4 2957.8 L891.4 2951.4 L894.3 2951.4 L894.3 2945.0 L896.2 2945.0 L896.2 2938.6 L897.2 2938.6 L897.2 2932.1 L897.7 2932.1 L897.7 2925.7 L897.9 2925.7 L897.9 2919.3 L898.1 2919.3 L898.1 2912.9 L898.4 2912.9 L898.4 2906.5 L899.0 2906.5 L899.0 2900.1 L899.6 2900.1 L899.6 2893.7 L900.2 2893.7 L900.2 2887.2 L901.5 2887.2 L901.5 2880.8 L902.9 2880.8 L902.9 2874.4 L909.6 2874.4 L909.6 2868.0 L912.7 2868.0 L912.7 2861.6 L912.9 2861.6 L912.9 2855.2 L913.0 2855.2 L913.0 2848.8 L913.2 2848.8 L913.2 2842.3 L913.3 2842.3 L913.3 2835.9 L913.5 2835.9 L913.5 2829.5 L914.0 2829.5 L914.0 2823.1 L914.9 2823.1 L914.9 2816.7 L915.9 2816.7 L915.9 2810.3 L918.3 2810.3 L918.3 2803.9 L920.5 2803.9 L920.5 2797.4 L921.0 2797.4 L921.0 2791.0 L921.5 2791.0 L921.5 2784.6 L922.0 2784.6 L922.0 2778.2 L923.1 2778.2 L923.1 2771.8 L924.6 2771.8 L924.6 2765.4 L925.9 2765.4 L925.9 2759.0 L926.2 2759.0 L926.2 2752.5 L926.5 2752.5 L926.5 2746.1 L926.8 2746.1 L926.8 2739.7 L927.0 2739.7 L927.0 2733.3 L927.3 2733.3 L927.3 2726.9 L927.6 2726.9 L927.6 2720.5 L927.9 2720.5 L927.9 2714.1 L928.2 2714.1 L928.2 2707.6 L928.5 2707.6 L928.5 2701.2 L928.8 2701.2 L928.8 2694.8 L928.8 2688.4 L929.4 2688.4 L929.4 2682.0 L930.2 2682.0 L930.2 2675.6 L932.8 2675.6 L932.8 2669.2 L935.8 2669.2 L935.8 2662.7 L938.2 2662.7 L938.2 2656.3 L940.2 2656.3 L940.2 2649.9 L940.6 2649.9 L940.6 2643.5 L941.1 2643.5 L941.1 2637.1 L941.5 2637.1 L941.5 2630.7 L942.6 2630.7 L942.6 2624.3 L943.9 2624.3 L943.9 2617.8 L945.2 2617.8 L945.2 2611.4 L946.5 2611.4 L946.5 2605.0 L947.8 2605.0 L947.8 2598.6 L948.9 2598.6 L948.9 2592.2 L949.7 2592.2 L949.7 2585.8 L950.4 2585.8 L950.4 2579.3 L952.4 2579.3 L952.4 2572.9 L954.3 2572.9 L954.3 2566.5 L955.7 2566.5 L955.7 2560.1 L957.0 2560.1 L957.0 2553.7 L962.1 2553.7 L962.1 2547.3 L965.6 2547.3 L965.6 2540.9 L967.2 2540.9 L967.2 2534.4 L968.8 2534.4 L968.8 2528.0 L970.4 2528.0 L970.4 2521.6 L971.6 2521.6 L971.6 2515.2 L972.7 2515.2 L972.7 2508.8 L973.7 2508.8 L973.7 2502.4 L974.8 2502.4 L974.8 2496.0 L975.7 2496.0 L975.7 2489.5 L976.2 2489.5 L976.2 2483.1 L976.6 2483.1 L976.6 2476.7 L977.1 2476.7 L977.1 2470.3 L978.4 2470.3 L978.4 2463.9 L980.0 2463.9 L980.0 2457.5 L982.8 2457.5 L982.8 2451.1 L985.5 2451.1 L985.5 2444.6 L986.4 2444.6 L986.4 2438.2 L987.3 2438.2 L987.3 2431.8 L988.2 2431.8 L988.2 2425.4 L989.6 2425.4 L989.6 2419.0 L991.2 2419.0 L991.2 2412.6 L992.8 2412.6 L992.8 2406.2 L994.1 2406.2 L994.1 2399.7 L995.1 2399.7 L995.1 2393.3 L996.2 2393.3 L996.2 2386.9 L1000.1 2386.9 L1000.1 2380.5 L1005.1 2380.5 L1005.1 2374.1 L1008.3 2374.1 L1008.3 2367.7 L1009.5 2367.7 L1009.5 2361.3 L1009.5 2354.8 L1009.5 2348.4 L1009.5 2342.0 L1010.5 2342.0 L1010.5 2335.6 L1012.1 2335.6 L1012.1 2329.2 L1013.6 2329.2 L1013.6 2322.8 L1015.0 2322.8 L1015.0 2316.4 L1017.2 2316.4 L1017.2 2309.9 L1020.8 2309.9 L1020.8 2303.5 L1027.0 2303.5 L1027.0 2297.1 L1031.7 2297.1 L1031.7 2290.7 L1033.8 2290.7 L1033.8 2284.3 L1035.6 2284.3 L1035.6 2277.9 L1037.5 2277.9 L1037.5 2271.5 L1039.3 2271.5 L1039.3 2265.0 L1046.6 2265.0 L1046.6 2258.6 L1047.0 2258.6 L1047.0 2252.2 L1047.3 2252.2 L1047.3 2245.8 L1047.7 2245.8 L1047.7 2239.4 L1048.0 2239.4 L1048.0 2233.0 L1049.0 2233.0 L1049.0 2226.6 L1050.6 2226.6 L1050.6 2220.1 L1052.8 2220.1 L1052.8 2213.7 L1055.5 2213.7 L1055.5 2207.3 L1060.1 2207.3 L1060.1 2200.9 L1064.3 2200.9 L1064.3 2194.5 L1067.5 2194.5 L1067.5 2188.1 L1069.8 2188.1 L1069.8 2181.6 L1071.1 2181.6 L1071.1 2175.2 L1072.3 2175.2 L1072.3 2168.8 L1074.4 2168.8 L1074.4 2162.4 L1079.2 2162.4 L1079.2 2156.0 L1083.9 2156.0 L1083.9 2149.6 L1084.5 2149.6 L1084.5 2143.2 L1085.0 2143.2 L1085.0 2136.7 L1085.9 2136.7 L1085.9 2130.3 L1087.1 2130.3 L1087.1 2123.9 L1088.4 2123.9 L1088.4 2117.5 L1095.9 2117.5 L1095.9 2111.1 L1098.0 2111.1 L1098.0 2104.7 L1105.4 2104.7 L1105.4 2098.3 L1107.2 2098.3 L1107.2 2091.8 L1117.9 2091.8 L1117.9 2085.4 L1120.0 2085.4 L1120.0 2079.0 L1124.7 2079.0 L1124.7 2072.6 L1131.1 2072.6 L1131.1 2066.2 L1136.2 2066.2 L1136.2 2059.8 L1138.6 2059.8 L1138.6 2053.4 L1141.3 2053.4 L1141.3 2046.9 L1144.5 2046.9 L1144.5 2040.5 L1147.7 2040.5 L1147.7 2034.1 L1172.4 2034.1 L1172.4 2027.7" stroke="#0072bd" stroke-width="9.2" fill="none" stroke-linejoin="round" stroke-linecap="butt"/>
<path d="M846.4 3175.9 L846.4 3169.5 L846.6 3169.5 L846.6 3163.1 L847.0 3163.1 L847.0 3156.7 L847.4 3156.7 L847.4 3150.2 L848.1 3150.2 L848.1 3143.8 L848.7 3143.8 L848.7 3137.4 L849.4 3137.4 L849.4 3131.0 L850.3 3131.0 L850.3 3124.6 L851.2 3124.6 L851.2 3118.2 L851.7 3118.2 L851.7 3111.8 L852.2 3111.8 L852.2 3105.3 L852.7 3105.3 L852.7 3098.9 L853.1 3098.9 L853.1 3092.5 L853.4 3092.5 L853.4 3086.1 L853.7 3086.1 L853.7 3079.7 L854.1 3079.7 L854.1 3073.3 L854.4 3073.3 L854.4 3066.9 L854.7 3066.9 L854.7 3060.4 L855.0 3060.4 L855.0 3054.0 L855.3 3054.0 L855.3 3047.6 L855.7 3047.6 L855.7 3041.2 L856.0 3041.2 L856.0 3034.8 L856.3 3034.8 L856.3 3028.4 L856.6 3028.4 L856.6 3022.0 L857.3 3022.0 L857.3 3015.5 L858.2 3015.5 L858.2 3009.1 L859.2 3009.1 L859.2 3002.7 L859.8 3002.7 L859.8 2996.3 L860.1 2996.3 L860.1 2989.9 L860.4 2989.9 L860.4 2983.5 L860.8 2983.5 L860.8 2977.0 L861.1 2977.0 L861.1 2970.6 L861.4 2970.6 L861.4 2964.2 L861.8 2964.2 L861.8 2957.8 L862.2 2957.8 L862.2 2951.4 L862.6 2951.4 L862.6 2945.0 L863.1 2945.0 L863.1 2938.6 L863.5 2938.6 L863.5 2932.1 L863.8 2932.1 L863.8 2925.7 L864.1 2925.7 L864.1 2919.3 L864.6 2919.3 L864.6 2912.9 L865.6 2912.9 L865.6 2906.5 L866.5 2906.5 L866.5 2900.1 L867.8 2900.1 L867.8 2893.7 L869.7 2893.7 L869.7 2887.2 L870.6 2887.2 L870.6 2880.8 L871.2 2880.8 L871.2 2874.4 L871.9 2874.4 L871.9 2868.0 L872.3 2868.0 L872.3 2861.6 L872.8 2861.6 L872.8 2855.2 L873.3 2855.2 L873.3 2848.8 L873.7 2848.8 L873.7 2842.3 L875.4 2842.3 L875.4 2835.9 L877.6 2835.9 L877.6 2829.5 L877.9 2829.5 L877.9 2823.1 L878.2 2823.1 L878.2 2816.7 L878.5 2816.7 L878.5 2810.3 L878.8 2810.3 L878.8 2803.9 L879.1 2803.9 L879.1 2797.4 L879.4 2797.4 L879.4 2791.0 L881.1 2791.0 L881.1 2784.6 L882.5 2784.6 L882.5 2778.2 L882.9 2778.2 L882.9 2771.8 L883.2 2771.8 L883.2 2765.4 L883.9 2765.4 L883.9 2759.0 L884.8 2759.0 L884.8 2752.5 L888.3 2752.5 L888.3 2746.1 L890.6 2746.1 L890.6 2739.7 L891.5 2739.7 L891.5 2733.3 L897.8 2733.3 L897.8 2726.9 L898.7 2726.9 L898.7 2720.5 L899.6 2720.5 L899.6 2714.1 L900.6 2714.1 L900.6 2707.6 L901.6 2707.6 L901.6 2701.2 L902.3 2701.2 L902.3 2694.8 L902.4 2694.8 L902.4 2688.4 L902.6 2688.4 L902.6 2682.0 L902.7 2682.0 L902.7 2675.6 L902.9 2675.6 L902.9 2669.2 L903.9 2669.2 L903.9 2662.7 L905.2 2662.7 L905.2 2656.3 L906.4 2656.3 L906.4 2649.9 L907.4 2649.9 L907.4 2643.5 L908.3 2643.5 L908.3 2637.1 L909.3 2637.1 L909.3 2630.7 L910.2 2630.7 L910.2 2624.3 L911.1 2624.3 L911.1 2617.8 L911.6 2617.8 L911.6 2611.4 L912.0 2611.4 L912.0 2605.0 L912.5 2605.0 L912.5 2598.6 L912.6 2598.6 L912.6 2592.2 L912.7 2592.2 L912.7 2585.8 L913.2 2585.8 L913.2 2579.3 L913.7 2579.3 L913.7 2572.9 L914.2 2572.9 L914.2 2566.5 L915.3 2566.5 L915.3 2560.1 L916.6 2560.1 L916.6 2553.7 L917.8 2553.7 L917.8 2547.3 L918.7 2547.3 L918.7 2540.9 L919.6 2540.9 L919.6 2534.4 L920.5 2534.4 L920.5 2528.0 L922.0 2528.0 L922.0 2521.6 L923.6 2521.6 L923.6 2515.2 L925.2 2515.2 L925.2 2508.8 L926.3 2508.8 L926.3 2502.4 L927.2 2502.4 L927.2 2496.0 L928.1 2496.0 L928.1 2489.5 L929.0 2489.5 L929.0 2483.1 L929.7 2483.1 L929.7 2476.7 L930.4 2476.7 L930.4 2470.3 L931.1 2470.3 L931.1 2463.9 L931.8 2463.9 L931.8 2457.5 L933.2 2457.5 L933.2 2451.1 L934.8 2451.1 L934.8 2444.6 L936.4 2444.6 L936.4 2438.2 L938.0 2438.2 L938.0 2431.8 L939.6 2431.8 L939.6 2425.4 L940.8 2425.4 L940.8 2419.0 L941.9 2419.0 L941.9 2412.6 L943.0 2412.6 L943.0 2406.2 L944.0 2406.2 L944.0 2399.7 L944.9 2399.7 L944.9 2393.3 L945.9 2393.3 L945.9 2386.9 L946.8 2386.9 L946.8 2380.5 L947.8 2380.5 L947.8 2374.1 L948.3 2374.1 L948.3 2367.7 L948.6 2367.7 L948.6 2361.3 L948.9 2361.3 L948.9 2354.8 L949.2 2354.8 L949.2 2348.4 L949.5 2348.4 L949.5 2342.0 L950.0 2342.0 L950.0 2335.6 L951.7 2335.6 L951.7 2329.2 L953.5 2329.2 L953.5 2322.8 L956.8 2322.8 L956.8 2316.4 L962.7 2316.4 L962.7 2309.9 L963.0 2309.9 L963.0 2303.5 L963.4 2303.5 L963.4 2297.1 L963.8 2297.1 L963.8 2290.7 L964.1 2290.7 L964.1 2284.3 L969.2 2284.3 L969.2 2277.9 L969.8 2277.9 L969.8 2271.5 L970.4 2271.5 L970.4 2265.0 L972.2 2265.0 L972.2 2258.6 L975.0 2258.6 L975.0 2252.2 L980.6 2252.2 L980.6 2245.8 L984.3 2245.8 L984.3 2239.4 L985.6 2239.4 L985.6 2233.0 L986.9 2233.0 L986.9 2226.6 L990.8 2226.6 L990.8 2220.1 L995.6 2220.1 L995.6 2213.7 L999.2 2213.7 L999.2 2207.3 L1001.4 2207.3 L1001.4 2200.9 L1001.9 2200.9 L1001.9 2194.5 L1002.5 2194.5 L1002.5 2188.1 L1003.0 2188.1 L1003.0 2181.6 L1003.5 2181.6 L1003.5 2175.2 L1004.1 2175.2 L1004.1 2168.8 L1004.6 2168.8 L1004.6 2162.4 L1008.3 2162.4 L1008.3 2156.0 L1016.8 2156.0 L1016.8 2149.6 L1018.6 2149.6 L1018.6 2143.2 L1019.8 2143.2 L1019.8 2136.7 L1021.8 2136.7 L1021.8 2130.3 L1027.7 2130.3 L1027.7 2123.9 L1030.9 2123.9 L1030.9 2117.5 L1032.9 2117.5 L1032.9 2111.1 L1034.2 2111.1 L1034.2 2104.7 L1037.0 2104.7 L1037.0 2098.3 L1042.5 2098.3 L1042.5 2091.8 L1043.8 2091.8 L1043.8 2085.4 L1045.9 2085.4 L1045.9 2079.0 L1051.6 2079.0 L1051.6 2072.6 L1052.2 2072.6 L1052.2 2066.2 L1052.8 2066.2 L1052.8 2059.8 L1056.8 2059.8 L1056.8 2053.4 L1075.9 2053.4 L1075.9 2046.9 L1079.8 2046.9 L1079.8 2040.5 L1088.9 2040.5 L1088.9 2034.1 L1094.0 2034.1 L1094.0 2027.7" stroke="#d95319" stroke-width="9.2" fill="none" stroke-linejoin="round" stroke-linecap="butt"/>
<path d="M1612.33 2020.50V3171.50M1766.07 2020.50V3171.50M1919.80 2020.50V3171.50M1458.60 2941.30H1919.80M1458.60 2711.10H1919.80M1458.60 2480.90H1919.80M1458.60 2250.70H1919.80M1458.60 2020.50H1919.80" stroke="#262626" stroke-opacity="0.16" stroke-width="1.7" fill="none"/>
<path d="M1458.60 2020.50V3171.50H1919.80" stroke="#262626" stroke-width="2" fill="none" stroke-linecap="square"/>
<path d="M1458.60 3171.50h10.6M1458.60 2941.30h10.6M1458.60 2711.10h10.6M1458.60 2480.90h10.6M1458.60 2250.70h10.6M1458.60 2020.50h10.6M1458.60 3171.50v-10.6M1612.33 3171.50v-10.6M1766.07 3171.50v-10.6M1919.80 3171.50v-10.6" stroke="#262626" stroke-width="2" fill="none"/>
<path d="M1462.0 3171.5 L1462.0 3165.1 L1462.0 3158.6 L1462.0 3152.2 L1462.0 3145.8 L1462.0 3139.3 L1462.0 3132.9 L1462.0 3126.5 L1462.0 3120.1 L1462.0 3113.6 L1462.5 3113.6 L1462.5 3107.2 L1462.9 3107.2 L1462.9 3100.8 L1463.3 3100.8 L1463.3 3094.3 L1463.7 3094.3 L1463.7 3087.9 L1464.3 3087.9 L1464.3 3081.5 L1464.9 3081.5 L1464.9 3075.0 L1465.6 3075.0 L1465.6 3068.6 L1466.2 3068.6 L1466.2 3062.2 L1466.9 3062.2 L1466.9 3055.8 L1467.7 3055.8 L1467.7 3049.3 L1468.5 3049.3 L1468.5 3042.9 L1469.3 3042.9 L1469.3 3036.5 L1470.1 3036.5 L1470.1 3030.0 L1470.9 3030.0 L1470.9 3023.6 L1471.6 3023.6 L1471.6 3017.2 L1471.9 3017.2 L1471.9 3010.7 L1472.2 3010.7 L1472.2 3004.3 L1472.6 3004.3 L1472.6 2997.9 L1472.9 2997.9 L1472.9 2991.5 L1473.2 2991.5 L1473.2 2985.0 L1473.8 2985.0 L1473.8 2978.6 L1474.7 2978.6 L1474.7 2972.2 L1475.7 2972.2 L1475.7 2965.7 L1476.7 2965.7 L1476.7 2959.3 L1477.7 2959.3 L1477.7 2952.9 L1478.6 2952.9 L1478.6 2946.4 L1479.6 2946.4 L1479.6 2940.0 L1480.5 2940.0 L1480.5 2933.6 L1481.5 2933.6 L1481.5 2927.2 L1482.4 2927.2 L1482.4 2920.7 L1483.2 2920.7 L1483.2 2914.3 L1484.1 2914.3 L1484.1 2907.9 L1484.9 2907.9 L1484.9 2901.4 L1485.8 2901.4 L1485.8 2895.0 L1486.6 2895.0 L1486.6 2888.6 L1487.4 2888.6 L1487.4 2882.1 L1488.2 2882.1 L1488.2 2875.7 L1489.0 2875.7 L1489.0 2869.3 L1489.8 2869.3 L1489.8 2862.9 L1490.6 2862.9 L1490.6 2856.4 L1491.2 2856.4 L1491.2 2850.0 L1491.9 2850.0 L1491.9 2843.6 L1492.5 2843.6 L1492.5 2837.1 L1493.2 2837.1 L1493.2 2830.7 L1493.8 2830.7 L1493.8 2824.3 L1496.0 2824.3 L1496.0 2817.8 L1501.5 2817.8 L1501.5 2811.4 L1507.7 2811.4 L1507.7 2805.0 L1510.7 2805.0 L1510.7 2798.6 L1511.3 2798.6 L1511.3 2792.1 L1511.9 2792.1 L1511.9 2785.7 L1512.8 2785.7 L1512.8 2779.3 L1514.1 2779.3 L1514.1 2772.8 L1515.4 2772.8 L1515.4 2766.4 L1516.3 2766.4 L1516.3 2760.0 L1516.8 2760.0 L1516.8 2753.5 L1517.3 2753.5 L1517.3 2747.1 L1517.7 2747.1 L1517.7 2740.7 L1521.1 2740.7 L1521.1 2734.2 L1524.4 2734.2 L1524.4 2727.8 L1526.0 2727.8 L1526.0 2721.4 L1526.8 2721.4 L1526.8 2715.0 L1527.4 2715.0 L1527.4 2708.5 L1527.9 2708.5 L1527.9 2702.1 L1528.5 2702.1 L1528.5 2695.7 L1529.3 2695.7 L1529.3 2689.2 L1530.2 2689.2 L1530.2 2682.8 L1531.1 2682.8 L1531.1 2676.4 L1531.9 2676.4 L1531.9 2669.9 L1532.5 2669.9 L1532.5 2663.5 L1532.9 2663.5 L1532.9 2657.1 L1533.3 2657.1 L1533.3 2650.7 L1533.7 2650.7 L1533.7 2644.2 L1535.1 2644.2 L1535.1 2637.8 L1537.2 2637.8 L1537.2 2631.4 L1538.6 2631.4 L1538.6 2624.9 L1540.0 2624.9 L1540.0 2618.5 L1541.3 2618.5 L1541.3 2612.1 L1542.3 2612.1 L1542.3 2605.6 L1542.8 2605.6 L1542.8 2599.2 L1543.4 2599.2 L1543.4 2592.8 L1545.4 2592.8 L1545.4 2586.4 L1547.4 2586.4 L1547.4 2579.9 L1548.5 2579.9 L1548.5 2573.5 L1548.5 2567.1 L1548.5 2560.6 L1548.6 2560.6 L1548.6 2554.2 L1549.6 2554.2 L1549.6 2547.8 L1550.6 2547.8 L1550.6 2541.3 L1551.5 2541.3 L1551.5 2534.9 L1552.5 2534.9 L1552.5 2528.5 L1553.4 2528.5 L1553.4 2522.1 L1554.1 2522.1 L1554.1 2515.6 L1554.9 2515.6 L1554.9 2509.2 L1555.6 2509.2 L1555.6 2502.8 L1556.3 2502.8 L1556.3 2496.3 L1557.4 2496.3 L1557.4 2489.9 L1558.8 2489.9 L1558.8 2483.5 L1560.2 2483.5 L1560.2 2477.0 L1561.7 2477.0 L1561.7 2470.6 L1563.6 2470.6 L1563.6 2464.2 L1565.5 2464.2 L1565.5 2457.8 L1570.3 2457.8 L1570.3 2451.3 L1572.8 2451.3 L1572.8 2444.9 L1573.0 2444.9 L1573.0 2438.5 L1573.2 2438.5 L1573.2 2432.0 L1573.4 2432.0 L1573.4 2425.6 L1573.7 2425.6 L1573.7 2419.2 L1573.9 2419.2 L1573.9 2412.7 L1574.1 2412.7 L1574.1 2406.3 L1574.5 2406.3 L1574.5 2399.9 L1576.4 2399.9 L1576.4 2393.4 L1578.3 2393.4 L1578.3 2387.0 L1581.7 2387.0 L1581.7 2380.6 L1585.6 2380.6 L1585.6 2374.2 L1585.9 2374.2 L1585.9 2367.7 L1586.2 2367.7 L1586.2 2361.3 L1586.6 2361.3 L1586.6 2354.9 L1586.9 2354.9 L1586.9 2348.4 L1587.5 2348.4 L1587.5 2342.0 L1592.1 2342.0 L1592.1 2335.6 L1593.0 2335.6 L1593.0 2329.1 L1593.9 2329.1 L1593.9 2322.7 L1594.8 2322.7 L1594.8 2316.3 L1596.3 2316.3 L1596.3 2309.9 L1598.3 2309.9 L1598.3 2303.4 L1600.2 2303.4 L1600.2 2297.0 L1602.6 2297.0 L1602.6 2290.6 L1605.0 2290.6 L1605.0 2284.1 L1605.5 2284.1 L1605.5 2277.7 L1606.0 2277.7 L1606.0 2271.3 L1606.6 2271.3 L1606.6 2264.8 L1607.1 2264.8 L1607.1 2258.4 L1607.6 2258.4 L1607.6 2252.0 L1608.2 2252.0 L1608.2 2245.6 L1610.6 2245.6 L1610.6 2239.1 L1613.0 2239.1 L1613.0 2232.7 L1613.9 2232.7 L1613.9 2226.3 L1614.9 2226.3 L1614.9 2219.8 L1615.8 2219.8 L1615.8 2213.4 L1617.1 2213.4 L1617.1 2207.0 L1618.9 2207.0 L1618.9 2200.5 L1620.6 2200.5 L1620.6 2194.1 L1630.5 2194.1 L1630.5 2187.7 L1631.7 2187.7 L1631.7 2181.3 L1632.6 2181.3 L1632.6 2174.8 L1633.5 2174.8 L1633.5 2168.4 L1634.6 2168.4 L1634.6 2162.0 L1635.9 2162.0 L1635.9 2155.5 L1637.2 2155.5 L1637.2 2149.1 L1644.9 2149.1 L1644.9 2142.7 L1649.4 2142.7 L1649.4 2136.2 L1652.0 2136.2 L1652.0 2129.8 L1652.5 2129.8 L1652.5 2123.4 L1653.1 2123.4 L1653.1 2117.0 L1655.7 2117.0 L1655.7 2110.5 L1661.0 2110.5 L1661.0 2104.1 L1663.7 2104.1 L1663.7 2097.7 L1666.1 2097.7 L1666.1 2091.2 L1667.7 2091.2 L1667.7 2084.8 L1669.4 2084.8 L1669.4 2078.4 L1671.0 2078.4 L1671.0 2071.9 L1681.1 2071.9 L1681.1 2065.5 L1681.7 2065.5 L1681.7 2059.1 L1682.3 2059.1 L1682.3 2052.7 L1686.7 2052.7 L1686.7 2046.2 L1693.0 2046.2 L1693.0 2039.8 L1707.7 2039.8 L1707.7 2033.4 L1719.3 2033.4 L1719.3 2026.9 L1748.6 2026.9 L1748.6 2020.5" stroke="#0072bd" stroke-width="9.2" fill="none" stroke-linejoin="round" stroke-linecap="butt"/>
<path d="M1458.3 3171.5 L1458.3 3165.1 L1459.2 3165.1 L1459.2 3158.6 L1460.3 3158.6 L1460.3 3152.2 L1461.5 3152.2 L1461.5 3145.8 L1463.1 3145.8 L1463.1 3139.3 L1465.1 3139.3 L1465.1 3132.9 L1467.4 3132.9 L1467.4 3126.5 L1469.0 3126.5 L1469.0 3120.1 L1469.6 3120.1 L1469.6 3113.6 L1470.2 3113.6 L1470.2 3107.2 L1470.9 3107.2 L1470.9 3100.8 L1471.5 3100.8 L1471.5 3094.3 L1472.4 3094.3 L1472.4 3087.9 L1473.3 3087.9 L1473.3 3081.5 L1474.1 3081.5 L1474.1 3075.0 L1475.0 3075.0 L1475.0 3068.6 L1475.9 3068.6 L1475.9 3062.2 L1476.9 3062.2 L1476.9 3055.8 L1477.8 3055.8 L1477.8 3049.3 L1478.4 3049.3 L1478.4 3042.9 L1478.9 3042.9 L1478.9 3036.5 L1479.3 3036.5 L1479.3 3030.0 L1479.7 3030.0 L1479.7 3023.6 L1480.1 3023.6 L1480.1 3017.2 L1480.6 3017.2 L1480.6 3010.7 L1481.0 3010.7 L1481.0 3004.3 L1481.4 3004.3 L1481.4 2997.9 L1481.9 2997.9 L1481.9 2991.5 L1482.5 2991.5 L1482.5 2985.0 L1483.1 2985.0 L1483.1 2978.6 L1483.7 2978.6 L1483.7 2972.2 L1484.4 2972.2 L1484.4 2965.7 L1485.1 2965.7 L1485.1 2959.3 L1486.0 2959.3 L1486.0 2952.9 L1486.8 2952.9 L1486.8 2946.4 L1487.7 2946.4 L1487.7 2940.0 L1488.6 2940.0 L1488.6 2933.6 L1489.2 2933.6 L1489.2 2927.2 L1489.8 2927.2 L1489.8 2920.7 L1490.5 2920.7 L1490.5 2914.3 L1491.1 2914.3 L1491.1 2907.9 L1491.9 2907.9 L1491.9 2901.4 L1492.8 2901.4 L1492.8 2895.0 L1493.6 2895.0 L1493.6 2888.6 L1494.5 2888.6 L1494.5 2882.1 L1495.3 2882.1 L1495.3 2875.7 L1495.9 2875.7 L1495.9 2869.3 L1496.6 2869.3 L1496.6 2862.9 L1497.2 2862.9 L1497.2 2856.4 L1497.9 2856.4 L1497.9 2850.0 L1498.3 2850.0 L1498.3 2843.6 L1498.8 2843.6 L1498.8 2837.1 L1499.2 2837.1 L1499.2 2830.7 L1499.6 2830.7 L1499.6 2824.3 L1500.1 2824.3 L1500.1 2817.8 L1500.5 2817.8 L1500.5 2811.4 L1500.9 2811.4 L1500.9 2805.0 L1501.3 2805.0 L1501.3 2798.6 L1501.8 2798.6 L1501.8 2792.1 L1502.1 2792.1 L1502.1 2785.7 L1502.4 2785.7 L1502.4 2779.3 L1502.8 2779.3 L1502.8 2772.8 L1503.1 2772.8 L1503.1 2766.4 L1503.4 2766.4 L1503.4 2760.0 L1503.7 2760.0 L1503.7 2753.5 L1504.0 2753.5 L1504.0 2747.1 L1504.4 2747.1 L1504.4 2740.7 L1504.7 2740.7 L1504.7 2734.2 L1505.9 2734.2 L1505.9 2727.8 L1507.1 2727.8 L1507.1 2721.4 L1507.9 2721.4 L1507.9 2715.0 L1508.4 2715.0 L1508.4 2708.5 L1509.0 2708.5 L1509.0 2702.1 L1509.4 2702.1 L1509.4 2695.7 L1509.7 2695.7 L1509.7 2689.2 L1510.2 2689.2 L1510.2 2682.8 L1510.6 2682.8 L1510.6 2676.4 L1511.0 2676.4 L1511.0 2669.9 L1511.4 2669.9 L1511.4 2663.5 L1512.0 2663.5 L1512.0 2657.1 L1512.7 2657.1 L1512.7 2650.7 L1513.7 2650.7 L1513.7 2644.2 L1514.9 2644.2 L1514.9 2637.8 L1516.5 2637.8 L1516.5 2631.4 L1522.7 2631.4 L1522.7 2624.9 L1523.3 2624.9 L1523.3 2618.5 L1523.9 2618.5 L1523.9 2612.1 L1524.5 2612.1 L1524.5 2605.6 L1525.0 2605.6 L1525.0 2599.2 L1525.4 2599.2 L1525.4 2592.8 L1525.9 2592.8 L1525.9 2586.4 L1525.9 2579.9 L1526.1 2579.9 L1526.1 2573.5 L1526.6 2573.5 L1526.6 2567.1 L1527.1 2567.1 L1527.1 2560.6 L1527.6 2560.6 L1527.6 2554.2 L1528.1 2554.2 L1528.1 2547.8 L1528.7 2547.8 L1528.7 2541.3 L1529.2 2541.3 L1529.2 2534.9 L1529.7 2534.9 L1529.7 2528.5 L1530.3 2528.5 L1530.3 2522.1 L1530.8 2522.1 L1530.8 2515.6 L1531.3 2515.6 L1531.3 2509.2 L1531.9 2509.2 L1531.9 2502.8 L1532.4 2502.8 L1532.4 2496.3 L1532.9 2496.3 L1532.9 2489.9 L1533.5 2489.9 L1533.5 2483.5 L1534.7 2483.5 L1534.7 2477.0 L1538.8 2477.0 L1538.8 2470.6 L1539.2 2470.6 L1539.2 2464.2 L1539.5 2464.2 L1539.5 2457.8 L1539.9 2457.8 L1539.9 2451.3 L1540.3 2451.3 L1540.3 2444.9 L1540.6 2444.9 L1540.6 2438.5 L1541.0 2438.5 L1541.0 2432.0 L1541.3 2432.0 L1541.3 2425.6 L1541.7 2425.6 L1541.7 2419.2 L1542.0 2419.2 L1542.0 2412.7 L1542.4 2412.7 L1542.4 2406.3 L1542.8 2406.3 L1542.8 2399.9 L1543.1 2399.9 L1543.1 2393.4 L1543.5 2393.4 L1543.5 2387.0 L1543.8 2387.0 L1543.8 2380.6 L1544.2 2380.6 L1544.2 2374.2 L1544.5 2374.2 L1544.5 2367.7 L1544.9 2367.7 L1544.9 2361.3 L1545.4 2361.3 L1545.4 2354.9 L1547.8 2354.9 L1547.8 2348.4 L1550.1 2348.4 L1550.1 2342.0 L1551.2 2342.0 L1551.2 2335.6 L1552.3 2335.6 L1552.3 2329.1 L1553.3 2329.1 L1553.3 2322.7 L1553.5 2322.7 L1553.5 2316.3 L1553.7 2316.3 L1553.7 2309.9 L1553.9 2309.9 L1553.9 2303.4 L1554.2 2303.4 L1554.2 2297.0 L1554.4 2297.0 L1554.4 2290.6 L1554.6 2290.6 L1554.6 2284.1 L1554.8 2284.1 L1554.8 2277.7 L1557.5 2277.7 L1557.5 2271.3 L1559.9 2271.3 L1559.9 2264.8 L1560.2 2264.8 L1560.2 2258.4 L1560.5 2258.4 L1560.5 2252.0 L1560.8 2252.0 L1560.8 2245.6 L1561.1 2245.6 L1561.1 2239.1 L1561.4 2239.1 L1561.4 2232.7 L1562.7 2232.7 L1562.7 2226.3 L1563.9 2226.3 L1563.9 2219.8 L1564.9 2219.8 L1564.9 2213.4 L1565.7 2213.4 L1565.7 2207.0 L1566.4 2207.0 L1566.4 2200.5 L1567.1 2200.5 L1567.1 2194.1 L1567.8 2194.1 L1567.8 2187.7 L1572.0 2187.7 L1572.0 2181.3 L1574.7 2181.3 L1574.7 2174.8 L1575.5 2174.8 L1575.5 2168.4 L1576.3 2168.4 L1576.3 2162.0 L1577.1 2162.0 L1577.1 2155.5 L1578.2 2155.5 L1578.2 2149.1 L1579.8 2149.1 L1579.8 2142.7 L1581.5 2142.7 L1581.5 2136.2 L1584.5 2136.2 L1584.5 2129.8 L1587.7 2129.8 L1587.7 2123.4 L1588.9 2123.4 L1588.9 2117.0 L1590.1 2117.0 L1590.1 2110.5 L1591.3 2110.5 L1591.3 2104.1 L1592.2 2104.1 L1592.2 2097.7 L1592.6 2097.7 L1592.6 2091.2 L1593.0 2091.2 L1593.0 2084.8 L1593.4 2084.8 L1593.4 2078.4 L1594.5 2078.4 L1594.5 2071.9 L1596.7 2071.9 L1596.7 2065.5 L1601.5 2065.5 L1601.5 2059.1 L1608.5 2059.1 L1608.5 2052.7 L1631.7 2052.7 L1631.7 2046.2 L1646.5 2046.2 L1646.5 2039.8 L1649.8 2039.8 L1649.8 2033.4 L1653.0 2033.4 L1653.0 2026.9 L1656.2 2026.9 L1656.2 2020.5" stroke="#d95319" stroke-width="9.2" fill="none" stroke-linejoin="round" stroke-linecap="butt"/>
<rect x="262" y="3000" width="530" height="148" fill="#fff"/>
<path d="M276.7 3040.2H378" stroke="#0072bd" stroke-width="10"/>
<path d="M276.7 3108H378" stroke="#d95319" stroke-width="10"/>
<text transform="translate(167.30,519.30) scale(0.9300,1)" font-family="'Liberation Sans', Arial, Helvetica, sans-serif" font-size="61.50" text-anchor="end" fill="#262626">0</text>
<text transform="translate(167.30,316.45) scale(0.9300,1)" font-family="'Liberation Sans', Arial, Helvetica, sans-serif" font-size="61.50" text-anchor="end" fill="#262626">10</text>
<text transform="translate(167.30,113.60) scale(0.9300,1)" font-family="'Liberation Sans', Arial, Helvetica, sans-serif" font-size="61.50" text-anchor="end" fill="#262626">20</text>
<text transform="translate(186.80,574.60) scale(0.9300,1)" font-family="'Liberation Sans', Arial, Helvetica, sans-serif" font-size="61.50" text-anchor="middle" fill="#262626">0</text>
<text transform="translate(379.67,574.60) scale(0.9300,1)" font-family="'Liberation Sans', Arial, Helvetica, sans-serif" font-size="61.50" text-anchor="middle" fill="#262626">20</text>
<text transform="translate(572.53,574.60) scale(0.9300,1)" font-family="'Liberation Sans', Arial, Helvetica, sans-serif" font-size="61.50" text-anchor="middle" fill="#262626">40</text>
<text transform="translate(765.40,574.60) scale(0.9300,1)" font-family="'Liberation Sans', Arial, Helvetica, sans-serif" font-size="61.50" text-anchor="middle" fill="#262626">60</text>
<text transform="translate(958.26,574.60) scale(0.9300,1)" font-family="'Liberation Sans', Arial, Helvetica, sans-serif" font-size="61.50" text-anchor="middle" fill="#262626">80</text>
<text transform="translate(1151.13,574.60) scale(0.9300,1)" font-family="'Liberation Sans', Arial, Helvetica, sans-serif" font-size="61.50" text-anchor="middle" fill="#262626">100</text>
<text transform="translate(1344.00,574.60) scale(0.9300,1)" font-family="'Liberation Sans', Arial, Helvetica, sans-serif" font-size="61.50" text-anchor="middle" fill="#262626">120</text>
<text transform="translate(1536.86,574.60) scale(0.9300,1)" font-family="'Liberation Sans', Arial, Helvetica, sans-serif" font-size="61.50" text-anchor="middle" fill="#262626">140</text>
<text transform="translate(1729.73,574.60) scale(0.9300,1)" font-family="'Liberation Sans', Arial, Helvetica, sans-serif" font-size="61.50" text-anchor="middle" fill="#262626">160</text>
<text transform="translate(1922.59,574.60) scale(0.9300,1)" font-family="'Liberation Sans', Arial, Helvetica, sans-serif" font-size="61.50" text-anchor="middle" fill="#262626">180</text>
<text transform="translate(167.30,1053.80) scale(0.9300,1)" font-family="'Liberation Sans', Arial, Helvetica, sans-serif" font-size="61.50" text-anchor="end" fill="#262626">0</text>
<text transform="translate(167.30,869.44) scale(0.9300,1)" font-family="'Liberation Sans', Arial, Helvetica, sans-serif" font-size="61.50" text-anchor="end" fill="#262626">10</text>
<text transform="translate(167.30,685.07) scale(0.9300,1)" font-family="'Liberation Sans', Arial, Helvetica, sans-serif" font-size="61.50" text-anchor="end" fill="#262626">20</text>
<text transform="translate(186.80,1109.10) scale(0.9300,1)" font-family="'Liberation Sans', Arial, Helvetica, sans-serif" font-size="61.50" text-anchor="middle" fill="#262626">0</text>
<text transform="translate(379.67,1109.10) scale(0.9300,1)" font-family="'Liberation Sans', Arial, Helvetica, sans-serif" font-size="61.50" text-anchor="middle" fill="#262626">20</text>
<text transform="translate(572.53,1109.10) scale(0.9300,1)" font-family="'Liberation Sans', Arial, Helvetica, sans-serif" font-size="61.50" text-anchor="middle" fill="#262626">40</text>
<text transform="translate(765.40,1109.10) scale(0.9300,1)" font-family="'Liberation Sans', Arial, Helvetica, sans-serif" font-size="61.50" text-anchor="middle" fill="#262626">60</text>
<text transform="translate(958.26,1109.10) scale(0.9300,1)" font-family="'Liberation Sans', Arial, Helvetica, sans-serif" font-size="61.50" text-anchor="middle" fill="#262626">80</text>
<text transform="translate(1151.13,1109.10) scale(0.9300,1)" font-family="'Liberation Sans', Arial, Helvetica, sans-serif" font-size="61.50" text-anchor="middle" fill="#262626">100</text>
<text transform="translate(1344.00,1109.10) scale(0.9300,1)" font-family="'Liberation Sans', Arial, Helvetica, sans-serif" font-size="61.50" text-anchor="middle" fill="#262626">120</text>
<text transform="translate(1536.86,1109.10) scale(0.9300,1)" font-family="'Liberation Sans', Arial, Helvetica, sans-serif" font-size="61.50" text-anchor="middle" fill="#262626">140</text>
<text transform="translate(1729.73,1109.10) scale(0.9300,1)" font-family="'Liberation Sans', Arial, Helvetica, sans-serif" font-size="61.50" text-anchor="middle" fill="#262626">160</text>
<text transform="translate(1922.59,1109.10) scale(0.9300,1)" font-family="'Liberation Sans', Arial, Helvetica, sans-serif" font-size="61.50" text-anchor="middle" fill="#262626">180</text>
<text transform="translate(167.30,1582.70) scale(0.9300,1)" font-family="'Liberation Sans', Arial, Helvetica, sans-serif" font-size="61.50" text-anchor="end" fill="#262626">0</text>
<text transform="translate(167.30,1381.00) scale(0.9300,1)" font-family="'Liberation Sans', Arial, Helvetica, sans-serif" font-size="61.50" text-anchor="end" fill="#262626">10</text>
<text transform="translate(167.30,1179.30) scale(0.9300,1)" font-family="'Liberation Sans', Arial, Helvetica, sans-serif" font-size="61.50" text-anchor="end" fill="#262626">20</text>
<text transform="translate(186.80,1638.00) scale(0.9300,1)" font-family="'Liberation Sans', Arial, Helvetica, sans-serif" font-size="61.50" text-anchor="middle" fill="#262626">0</text>
<text transform="translate(379.67,1638.00) scale(0.9300,1)" font-family="'Liberation Sans', Arial, Helvetica, sans-serif" font-size="61.50" text-anchor="middle" fill="#262626">20</text>
<text transform="translate(572.53,1638.00) scale(0.9300,1)" font-family="'Liberation Sans', Arial, Helvetica, sans-serif" font-size="61.50" text-anchor="middle" fill="#262626">40</text>
<text transform="translate(765.40,1638.00) scale(0.9300,1)" font-family="'Liberation Sans', Arial, Helvetica, sans-serif" font-size="61.50" text-anchor="middle" fill="#262626">60</text>
<text transform="translate(958.26,1638.00) scale(0.9300,1)" font-family="'Liberation Sans', Arial, Helvetica, sans-serif" font-size="61.50" text-anchor="middle" fill="#262626">80</text>
<text transform="translate(1151.13,1638.00) scale(0.9300,1)" font-family="'Liberation Sans', Arial, Helvetica, sans-serif" font-size="61.50" text-anchor="middle" fill="#262626">100</text>
<text transform="translate(1344.00,1638.00) scale(0.9300,1)" font-family="'Liberation Sans', Arial, Helvetica, sans-serif" font-size="61.50" text-anchor="middle" fill="#262626">120</text>
<text transform="translate(1536.86,1638.00) scale(0.9300,1)" font-family="'Liberation Sans', Arial, Helvetica, sans-serif" font-size="61.50" text-anchor="middle" fill="#262626">140</text>
<text transform="translate(1729.73,1638.00) scale(0.9300,1)" font-family="'Liberation Sans', Arial, Helvetica, sans-serif" font-size="61.50" text-anchor="middle" fill="#262626">160</text>
<text transform="translate(1922.59,1638.00) scale(0.9300,1)" font-family="'Liberation Sans', Arial, Helvetica, sans-serif" font-size="61.50" text-anchor="middle" fill="#262626">180</text>
<text transform="translate(337.15,70.16) scale(0.9900,1)" font-family="'Liberation Sans', Arial, Helvetica, sans-serif" font-size="53.66" fill="#000">UAV02</text>
<text transform="translate(337.15,137.06) scale(0.9900,1)" font-family="'Liberation Sans', Arial, Helvetica, sans-serif" font-size="53.66" fill="#000">UAV02-CoVDLL</text>
<text transform="translate(792.61,67.77) scale(0.9992,1)" font-family="'Liberation Sans', Arial, Helvetica, sans-serif" font-size="64.89" fill="#000">position errors (m)</text>
<text transform="translate(77.14,458.96) rotate(-90) scale(1.0137,1)" font-family="'Liberation Sans', Arial, Helvetica, sans-serif" font-size="64.57" fill="#262626">X_axis (m)</text>
<text transform="translate(77.36,994.81) rotate(-90) scale(1.0046,1)" font-family="'Liberation Sans', Arial, Helvetica, sans-serif" font-size="65.43" fill="#262626">Y_axis (m)</text>
<text transform="translate(77.57,1521.48) rotate(-90) scale(0.9867,1)" font-family="'Liberation Sans', Arial, Helvetica, sans-serif" font-size="66.81" fill="#262626">Z_axis (m)</text>
<text transform="translate(935.69,1719.93) scale(0.9936,1)" font-family="'Liberation Sans', Arial, Helvetica, sans-serif" font-size="66.06" fill="#262626">Time (s)</text>
<text transform="translate(330.41,1857.21) scale(1.0464,1)" font-family="'Liberation Serif', 'Times New Roman', serif" font-size="85.67" fill="#000">(<tspan font-weight="bold">a</tspan>) three-axis position errors (UAV02)</text>
<text transform="translate(217.40,3200.90) scale(0.9600,1)" font-family="'Liberation Sans', Arial, Helvetica, sans-serif" font-size="62.00" text-anchor="end" fill="#262626">0</text>
<text transform="translate(217.40,2972.02) scale(0.9600,1)" font-family="'Liberation Sans', Arial, Helvetica, sans-serif" font-size="62.00" text-anchor="end" fill="#262626">0.2</text>
<text transform="translate(217.40,2743.14) scale(0.9600,1)" font-family="'Liberation Sans', Arial, Helvetica, sans-serif" font-size="62.00" text-anchor="end" fill="#262626">0.4</text>
<text transform="translate(217.40,2514.26) scale(0.9600,1)" font-family="'Liberation Sans', Arial, Helvetica, sans-serif" font-size="62.00" text-anchor="end" fill="#262626">0.6</text>
<text transform="translate(217.40,2285.38) scale(0.9600,1)" font-family="'Liberation Sans', Arial, Helvetica, sans-serif" font-size="62.00" text-anchor="end" fill="#262626">0.8</text>
<text transform="translate(217.40,2056.50) scale(0.9600,1)" font-family="'Liberation Sans', Arial, Helvetica, sans-serif" font-size="62.00" text-anchor="end" fill="#262626">1</text>
<text transform="translate(238.40,3257.70) scale(0.9600,1)" font-family="'Liberation Sans', Arial, Helvetica, sans-serif" font-size="62.00" text-anchor="middle" fill="#262626">0</text>
<text transform="translate(388.80,3257.70) scale(0.9600,1)" font-family="'Liberation Sans', Arial, Helvetica, sans-serif" font-size="62.00" text-anchor="middle" fill="#262626">10</text>
<text transform="translate(539.20,3257.70) scale(0.9600,1)" font-family="'Liberation Sans', Arial, Helvetica, sans-serif" font-size="62.00" text-anchor="middle" fill="#262626">20</text>
<text transform="translate(689.60,3257.70) scale(0.9600,1)" font-family="'Liberation Sans', Arial, Helvetica, sans-serif" font-size="62.00" text-anchor="middle" fill="#262626">30</text>
<text transform="translate(826.90,3200.90) scale(0.9600,1)" font-family="'Liberation Sans', Arial, Helvetica, sans-serif" font-size="62.00" text-anchor="end" fill="#262626">0</text>
<text transform="translate(826.90,2971.26) scale(0.9600,1)" font-family="'Liberation Sans', Arial, Helvetica, sans-serif" font-size="62.00" text-anchor="end" fill="#262626">0.2</text>
<text transform="translate(826.90,2741.62) scale(0.9600,1)" font-family="'Liberation Sans', Arial, Helvetica, sans-serif" font-size="62.00" text-anchor="end" fill="#262626">0.4</text>
<text transform="translate(826.90,2511.98) scale(0.9600,1)" font-family="'Liberation Sans', Arial, Helvetica, sans-serif" font-size="62.00" text-anchor="end" fill="#262626">0.6</text>
<text transform="translate(826.90,2282.34) scale(0.9600,1)" font-family="'Liberation Sans', Arial, Helvetica, sans-serif" font-size="62.00" text-anchor="end" fill="#262626">0.8</text>
<text transform="translate(826.90,2052.70) scale(0.9600,1)" font-family="'Liberation Sans', Arial, Helvetica, sans-serif" font-size="62.00" text-anchor="end" fill="#262626">1</text>
<text transform="translate(847.90,3257.70) scale(0.9600,1)" font-family="'Liberation Sans', Arial, Helvetica, sans-serif" font-size="62.00" text-anchor="middle" fill="#262626">0</text>
<text transform="translate(998.73,3257.70) scale(0.9600,1)" font-family="'Liberation Sans', Arial, Helvetica, sans-serif" font-size="62.00" text-anchor="middle" fill="#262626">10</text>
<text transform="translate(1149.57,3257.70) scale(0.9600,1)" font-family="'Liberation Sans', Arial, Helvetica, sans-serif" font-size="62.00" text-anchor="middle" fill="#262626">20</text>
<text transform="translate(1300.40,3257.70) scale(0.9600,1)" font-family="'Liberation Sans', Arial, Helvetica, sans-serif" font-size="62.00" text-anchor="middle" fill="#262626">30</text>
<text transform="translate(1437.60,3196.50) scale(0.9600,1)" font-family="'Liberation Sans', Arial, Helvetica, sans-serif" font-size="62.00" text-anchor="end" fill="#262626">0</text>
<text transform="translate(1437.60,2966.30) scale(0.9600,1)" font-family="'Liberation Sans', Arial, Helvetica, sans-serif" font-size="62.00" text-anchor="end" fill="#262626">0.2</text>
<text transform="translate(1437.60,2736.10) scale(0.9600,1)" font-family="'Liberation Sans', Arial, Helvetica, sans-serif" font-size="62.00" text-anchor="end" fill="#262626">0.4</text>
<text transform="translate(1437.60,2505.90) scale(0.9600,1)" font-family="'Liberation Sans', Arial, Helvetica, sans-serif" font-size="62.00" text-anchor="end" fill="#262626">0.6</text>
<text transform="translate(1437.60,2275.70) scale(0.9600,1)" font-family="'Liberation Sans', Arial, Helvetica, sans-serif" font-size="62.00" text-anchor="end" fill="#262626">0.8</text>
<text transform="translate(1437.60,2045.50) scale(0.9600,1)" font-family="'Liberation Sans', Arial, Helvetica, sans-serif" font-size="62.00" text-anchor="end" fill="#262626">1</text>
<text transform="translate(1458.60,3253.30) scale(0.9600,1)" font-family="'Liberation Sans', Arial, Helvetica, sans-serif" font-size="62.00" text-anchor="middle" fill="#262626">0</text>
<text transform="translate(1612.33,3253.30) scale(0.9600,1)" font-family="'Liberation Sans', Arial, Helvetica, sans-serif" font-size="62.00" text-anchor="middle" fill="#262626">10</text>
<text transform="translate(1766.07,3253.30) scale(0.9600,1)" font-family="'Liberation Sans', Arial, Helvetica, sans-serif" font-size="62.00" text-anchor="middle" fill="#262626">20</text>
<text transform="translate(1919.80,3253.30) scale(0.9600,1)" font-family="'Liberation Sans', Arial, Helvetica, sans-serif" font-size="62.00" text-anchor="middle" fill="#262626">30</text>
<text transform="translate(385.66,3060.74) scale(0.9688,1)" font-family="'Liberation Sans', Arial, Helvetica, sans-serif" font-size="56.06" fill="#000">UAV02</text>
<text transform="translate(385.66,3130.44) scale(0.9688,1)" font-family="'Liberation Sans', Arial, Helvetica, sans-serif" font-size="56.06" fill="#000">UAV02-CoVDLL</text>
<text transform="translate(737.72,1966.50) scale(1.0180,1)" font-family="'Liberation Sans', Arial, Helvetica, sans-serif" font-size="65.21" fill="#000">position errors distribution</text>
<text transform="translate(311.39,3340.45) scale(0.9864,1)" font-family="'Liberation Sans', Arial, Helvetica, sans-serif" font-size="67.87" fill="#262626">X_axis (m)</text>
<text transform="translate(937.16,3343.01) scale(0.9906,1)" font-family="'Liberation Sans', Arial, Helvetica, sans-serif" font-size="67.55" fill="#262626">Y_axis (m)</text>
<text transform="translate(1559.59,3338.87) scale(1.0009,1)" font-family="'Liberation Sans', Arial, Helvetica, sans-serif" font-size="66.81" fill="#262626">Z_axis (m)</text>
<text transform="translate(108.23,2768.31) rotate(-90) scale(1.0199,1)" font-family="'Liberation Sans', Arial, Helvetica, sans-serif" font-size="65.11" fill="#262626">Probability</text>
<text transform="translate(326.61,3484.73) scale(1.0327,1)" font-family="'Liberation Serif', 'Times New Roman', serif" font-size="87.00" fill="#000">(<tspan font-weight="bold">b</tspan>) three-axis position errors (UAV02)</text>
</svg></body></html>
